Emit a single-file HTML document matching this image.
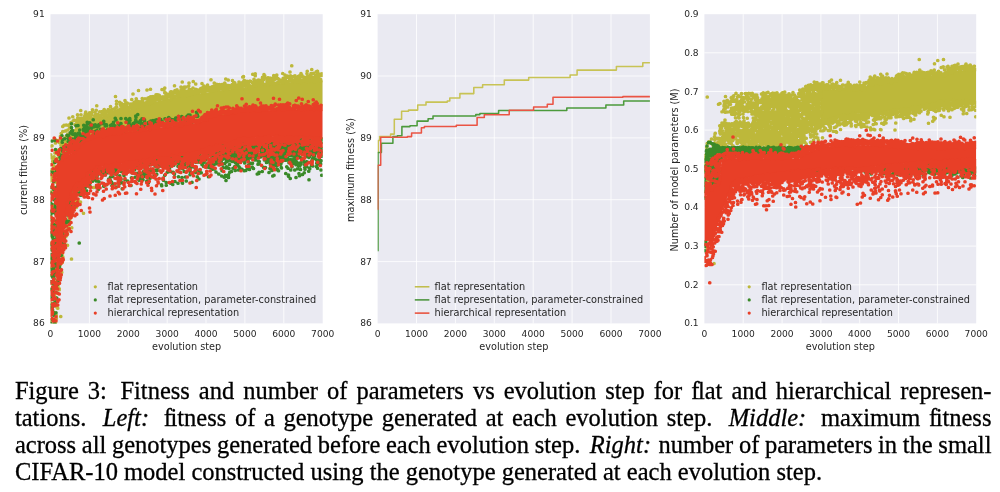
<!DOCTYPE html>
<html lang="en"><head><meta charset="utf-8"><title>Figure 3</title>
<style>
html,body{margin:0;padding:0;background:#fff}
body{width:1000px;height:492px;position:relative;overflow:hidden}
.cap{position:absolute;left:14.9px;width:976.6px;font-family:"Liberation Serif","DejaVu Serif",serif;font-size:24.5px;color:#000;margin:0;-webkit-text-stroke:0.3px #000}
.cap span.l{position:absolute;left:0;white-space:nowrap;line-height:27px;height:27px;display:block}
.cap i{font-style:italic}
.cap b{display:inline-block;font-weight:normal}
.cap .fi{letter-spacing:-1.5px}
</style></head><body>
<svg width="1000" height="360" viewBox="0 0 1000 360" style="position:absolute;left:0;top:0;filter:blur(0.6px)" font-family="'DejaVu Sans', 'Liberation Sans', sans-serif" fill="#262626"><rect x="50.5" y="14.2" width="272.2" height="309.2" fill="#EAEAF2"/><path d="M89.4 14.2V323.4M128.3 14.2V323.4M167.2 14.2V323.4M206.0 14.2V323.4M244.9 14.2V323.4M283.8 14.2V323.4M50.5 261.6H322.7M50.5 199.7H322.7M50.5 137.9H322.7M50.5 76.0H322.7" stroke="#fff" stroke-width="0.8" fill="none"/><clipPath id="c0"><rect x="50.5" y="14.2" width="272.2" height="309.2"/></clipPath><g clip-path="url(#c0)"><path d="M75.0 126.0L81.6 122.2L89.4 119.3L101.1 116.5L112.7 113.8L128.3 110.1L139.9 106.3L145.8 104.5L147.7 103.9L151.6 102.9L159.4 100.9L167.2 98.9L178.4 96.8L186.6 95.2L198.3 93.5L206.0 92.4L209.9 91.9L211.9 91.6L213.8 91.3L218.9 90.6L229.4 89.2L243.0 87.6L244.9 87.4L247.3 87.1L257.4 85.7L268.3 84.1L271.8 83.8L276.0 83.4L285.8 82.6L289.6 82.2L291.6 82.1L293.5 82.0L303.3 81.5L322.7 80.4L322.7 106.3L303.3 107.4L293.5 108.0L291.6 108.1L289.6 108.2L285.8 108.5L276.0 109.4L271.8 109.7L268.3 110.1L257.4 111.6L247.3 113.1L244.9 113.4L243.0 113.6L229.4 115.2L218.9 116.6L213.8 117.3L211.9 117.6L209.9 117.8L206.0 118.4L198.3 119.5L186.6 121.2L178.4 122.7L167.2 124.9L159.4 126.9L151.6 128.9L147.7 129.8L145.8 130.5L139.9 132.3L128.3 136.0L112.7 139.7L101.1 142.5L89.4 145.3L81.6 148.2L75.0 152.0Z" fill="#BDB83A"/><path d="M202 978h0m0 56h0m0 251h0m1-666h0m0 104h0m0 190h0m0 57h0m0 242h0m1-532h0m0 23h0m0 64h0m0 100h0m0 31h0m0 204h0m0 55h0m1-446h0m0 135h0m1-262h0m1 133h0m0 163h0m0 169h0m0 23h0m1-489h0m0 47h0m0 2h0m0 316h0m0 280h0m1-300h0m0 72h0m0 132h0m2-487h0m0 502h0m1-127h0m1-321h0m0 50h0m0 152h0m1-217h0m0 136h0m0 6h0m0 227h0m0 195h0m1-585h0m0 85h0m0 28h0m1-149h0m0 46h0m0 219h0m0 403h0m1-380h0m1-359h0m0 93h0m0 365h0m0 161h0m1-233h0m0 0h0m0 257h0m1-643h0m0 56h0m0 156h0m0 318h0m1-448h0m0 39h0m0 205h0m0 174h0m0 152h0m0 84h0m0 1h0m0 0h0m1-721h0m0 271h0m0 79h0m0 267h0m0 100h0m1-680h0m0 94h0m0 373h0m0 27h0m1-375h0m0 491h0m1-48h0m0 90h0m0 13h0m1-713h0m0 340h0m1-289h0m0 338h0m1-336h0m0 25h0m0 309h0m0 116h0m0 57h0m0 108h0m1-593h0m1-3h0m0 100h0m1-132h0m0 1h0m0 14h0m0 617h0m1-90h0m2-524h0m0 466h0m1-523h0m2 8h0m0 551h0m0 34h0m0 4h0m1-95h0m1-466h0m1-34h0m0 81h0m1 413h0m1-513h0m1 442h0m0 279h0m1-685h0m0 30h0m0 397h0m0 83h0m1-557h0m0 30h0m0 70h0m1-60h0m0 8h0m0 33h0m1 474h0m1-70h0m1-38h0m0 55h0m0 14h0m1-454h0m0 344h0m1-434h0m0 20h0m0 501h0m0 4h0m4-454h0m1-76h0m0 100h0m2-47h0m1 422h0m1-406h0m1-46h0m0 41h0m0 326h0m1-367h0m0 418h0m1-355h0m0 337h0m0 11h0m0 12h0m2-447h0m0 45h0m2 383h0m1-351h0m0 26h0m1-36h0m0 354h0m1-356h0m0 354h0m0 18h0m0 44h0m1-461h0m1 16h0m0 296h0m0 73h0m1-355h0m0 2h0m0 16h0m0 342h0m1-18h0m0 18h0m1-410h0m0 369h0m0 29h0m1-426h0m0 31h0m1 370h0m0 8h0m1-322h0m0 321h0m1-368h0m3 359h0m1-378h0m0 17h0m1-20h0m1 23h0m0 28h0m1-15h0m0 510h0m1-489h0m0 269h0m0 47h0m0 48h0m3-118h0m1-326h0m1 82h0m0 222h0m0 31h0m1-319h0m0 330h0m1-287h0m0 254h0m2-245h0m0 258h0m1-312h0m1 343h0m1-343h0m0 0h0m0 341h0m1-324h0m2 23h0m0 282h0m0 11h0m0 15h0m1-31h0m2 32h0m2-338h0m2-10h0m1-23h0m0 26h0m0 11h0m1-24h0m0 23h0m1-12h0m0 322h0m1-46h0m2 13h0m1-275h0m1-24h0m1 285h0m3-282h0m0 8h0m0 10h0m0 286h0m1 28h0m1-366h0m1 17h0m2 306h0m1-272h0m2-20h0m0 4h0m3 6h0m1 268h0m1 102h0m2-121h0m0 22h0m1-268h0m2-22h0m1 10h0m1-18h0m1 26h0m1-34h0m4 15h0m1-5h0m1 13h0m2-10h0m0 16h0m0 219h0m1 6h0m3-242h0m3-9h0m0 297h0m1-293h0m0 17h0m1 231h0m1-1h0m0 16h0m1-252h0m1 0h0m2-9h0m1-7h0m1 9h0m3-20h0m0 34h0m4 277h0m5-282h0m0 1h0m1-20h0m0 14h0m0 227h0m0 14h0m3-247h0m0 1h0m1 11h0m1-28h0m1 22h0m1-40h0m4 34h0m3 5h0m1 3h0m4-18h0m2 15h0m4 1h0m1-16h0m0 14h0m1-14h0m2 11h0m6-5h0m1-13h0m1-2h0m1 12h0m0 10h0m6-14h0m0 5h0m2 7h0m3-14h0m2 1h0m0 17h0m2-24h0m4 21h0m1-3h0m1-15h0m0 5h0m3-20h0m3 30h0m3-19h0m0 9h0m4 11h0m3-21h0m2 19h0m4-7h0m1-62h0m2 43h0m0 14h0m0 3h0m2-41h0m0 11h0m1 13h0m4 13h0m3 8h0m2-6h0m3-35h0m1 28h0m1-19h0m2 5h0m0 25h0m2-35h0m0 21h0m4 0h0m0 9h0m4-25h0m0 8h0m5 7h0m1 12h0m1-43h0m0 38h0m1-24h0m1 21h0m0 8h0m1-33h0m0 22h0m1-12h0m0 3h0m1-5h0m2 12h0m2-20h0m3 16h0m1 4h0m2 9h0m5-25h0m0 16h0m3-7h0m4-27h0m0 18h0m1 17h0m3-16h0m1-41h0m0 42h0m0 6h0m2 5h0m3-20h0m1 10h0m2 17h0m1-29h0m4-12h0m1 21h0m0 11h0m4-22h0m3 17h0m1-60h0m2 51h0m0 13h0m3-19h0m5 10h0m5-23h0m0 10h0m0 16h0m2-9h0m8 1h0m1-17h0m1 23h0m6-9h0m1-49h0m3 35h0m0 22h0m1-25h0m0 3h0m0 13h0m1-16h0m1 0h0m3 23h0m1-25h0m2 7h0m0 10h0m2-50h0m0 30h0m0 0h0m0 13h0m0 1h0m4-14h0m0 25h0m3-17h0m3-9h0m0 19h0m4-5h0m2-11h0m0 1h0m3 20h0m3-31h0m0 20h0m2-6h0m3 4h0m1-18h0m0 8h0m0 11h0m3-9h0m2-9h0m0 21h0m2-20h0m2 19h0m3-13h0m1 3h0m4 6h0m1-38h0m4 29h0m1 10h0m3-38h0m3-7h0m0 19h0m0 20h0m4-19h0m1 6h0m0 3h0m0 13h0m6-5h0m1 0h0m1-12h0m1 9h0m4-2h0m4 0h0m1-16h0m1 17h0m1-9h0m0 21h0m0 1h0m1-31h0m2 20h0m2-19h0m1 11h0m2 2h0m2 2h0m2 2h0m2-42h0m0 27h0m2-8h0m1 24h0m3-18h0m4-9h0m0 17h0m3 7h0m3-4h0m1-11h0m8 1h0m0 4h0m0 9h0m1-34h0m0 12h0m1 12h0m4-44h0m1 53h0m4-15h0m2-10h0m0 6h0m0 12h0m1-26h0m2 16h0m0 15h0m3-4h0m2-27h0m1 17h0m2 17h0m5-16h0m0 6h0m1 8h0m2-36h0m0 26h0m1-38h0m0 29h0m1-4h0m4 21h0m4-16h0m1-4h0m0 10h0m5 6h0m1-22h0m1-26h0m4 40h0m1 11h0m5-41h0m0 21h0m2 5h0m0 8h0m4-3h0m2-7h0m1 0h0m1 1h0m0 12h0m4-13h0m3 7h0m3-13h0m0 5h0m1 7h0m4-32h0m1 18h0m2 19h0m2-23h0m2 12h0m1-16h0m3 12h0m0 10h0m3-17h0m0 16h0m2-16h0m4 4h0m1 9h0m1-22h0m6 9h0m0 0h0m0 13h0m2-11h0m1 12h0m5-44h0m0 39h0m2-5h0m2-6h0m1 18h0m6-20h0m1 17h0m1-30h0m0 21h0m3-3h0m4 7h0m3-20h0m0 10h0m1-7h0m3 13h0m1-13h0m2-1h0m0 10h0m0 10h0m4-21h0m3 11h0m3 7h0m1-5h0m2-5h0m1-8h0m1 0h0m6 0h0m0 11h0m0 9h0m2-10h0m1-3h0m0 7h0m1-20h0m0 1h0m4-17h0m1 24h0m1 0h0m1 13h0m1 2h0m5-7h0m1-28h0m0 23h0m0 12h0m2-13h0m6 2h0m1 5h0m5-3h0m0 7h0m2-15h0m1-16h0m5 8h0m0 15h0m4-14h0m0 8h0m1 13h0m1-6h0m7-5h0m3-2h0m0 13h0m5-24h0m0 16h0m5-9h0m0 15h0m5-18h0m1 0h0m0 12h0m2 11h0m1-17h0m1-30h0m3-2h0m1 19h0m1 19h0m1-23h0m3 12h0m3 12h0m4-5h0m1-15h0m0 17h0m4-12h0m3 6h0m0 1h0m2 3h0m1 3h0m0 7h0m2-26h0m2 1h0m0 24h0m8-19h0m0 15h0m1-48h0m0 46h0m1-14h0m0 10h0m1-5h0m1 6h0m2-23h0m2 5h0m1 10h0m1 4h0m1-41h0m0 8h0m3 41h0m2-13h0m1 0h0m4-10h0m1 2h0m0 14h0m2-15h0m1-2h0m2 10h0m5-9h0m1 16h0m4-7h0m3-21h0m0 14h0m1 10h0m2 3h0m1-17h0m0 17h0m1-30h0m1-8h0m3 5h0m2 9h0m0 28h0m5-5h0m2-11h0m2-12h0m0 18h0m1 9h0m2-28h0m1 11h0m6-10h0m1 22h0m1-15h0m1 11h0m8-18h0m1 14h0m1-8h0m1-4h0m0 21h0m1-33h0m2 17h0m1 15h0m3-28h0m4 9h0m1-8h0m1-7h0m0 34h0m1-3h0m2 0h0m2-17h0m0 1h0m2 15h0m2-12h0m0 9h0m1-1h0m1-6h0m3 0h0m0 7h0m9-4h0m1-29h0m0 39h0m2-20h0m3 11h0m3-12h0m1-12h0m1 26h0m1-17h0m0 11h0m0 7h0m5-18h0m3-5h0m3 24h0m2-3h0m3-9h0m2-28h0m2 15h0m0 9h0m2 11h0m3-60h0m0 43h0m1 7h0m4 8h0m1 2h0m1-17h0m2 19h0m2 2h0m2-24h0m3 10h0m3 8h0m1-8h0m2-1h0m0 14h0m5-21h0m2 23h0m1-24h0m0 8h0m0 7h0m6-14h0m1-11h0m0 36h0m0 99h0m3-129h0m0 21h0m1-1h0m1-14h0m1 14h0m2 4h0m1-17h0m2 3h0m0 8h0m3-3h0m2-5h0m3 15h0m4-11h0m1-20h0m0 18h0m1-27h0m1 18h0m1 14h0m0 11h0m5-22h0m1 18h0m2-10h0m3-13h0m2-7h0m0 3h0m1 10h0m1 14h0m1-43h0m0 17h0m3 19h0m4-21h0m1 18h0m1-3h0m2 10h0m0 8h0m4-14h0m1-10h0m0 2h0m2-17h0m1 36h0m3-38h0m0 11h0m1-11h0m3 26h0m0 3h0m2-7h0m2 12h0m2-23h0m4 22h0m1-16h0m0 22h0m3-29h0m3 6h0" stroke="#BDB83A" stroke-width="14.8" stroke-linecap="round" fill="none" transform="scale(0.25)"/><path d="M202 688h0m0 535h0m1-410h0m0 119h0m0 86h0m0 59h0m0 216h0m1-521h0m0 84h0m0 84h0m0 59h0m0 128h0m0 108h0m1-485h0m0 94h0m0 175h0m0 168h0m1-371h0m0 207h0m0 104h0m1-187h0m0 41h0m0 53h0m0 17h0m0 51h0m0 25h0m0 29h0m1-592h0m0 409h0m0 70h0m0 43h0m0 191h0m1-399h0m0 338h0m1-321h0m0 46h0m0 45h0m0 52h0m0 70h0m0 58h0m0 73h0m1-550h0m0 260h0m0 130h0m0 14h0m0 105h0m0 60h0m1-475h0m0 400h0m0 42h0m0 24h0m0 29h0m1-354h0m0 32h0m1-199h0m0 80h0m0 12h0m0 32h0m0 17h0m0 59h0m0 50h0m0 66h0m1-346h0m0 186h0m0 63h0m0 132h0m0 27h0m0 80h0m0 46h0m1-540h0m0 78h0m0 221h0m0 61h0m0 20h0m0 14h0m0 140h0m0 27h0m1-431h0m0 81h0m0 236h0m1-469h0m0 150h0m0 89h0m0 126h0m1-414h0m0 129h0m0 309h0m0 124h0m0 82h0m1-649h0m0 498h0m0 10h0m0 57h0m1-648h0m0 190h0m0 23h0m0 40h0m0 10h0m0 267h0m1-494h0m0 93h0m0 124h0m0 16h0m0 221h0m1-85h0m0 14h0m0 32h0m0 195h0m1-351h0m0 59h0m0 253h0m0 82h0m1-328h0m0 108h0m0 113h0m0 50h0m1-510h0m0 160h0m0 43h0m0 7h0m1-107h0m0 9h0m0 162h0m0 15h0m0 21h0m0 198h0m1-286h0m0 43h0m0 5h0m0 108h0m0 3h0m1-318h0m0 196h0m1-297h0m0 257h0m0 234h0m2-14h0m1-52h0m1-460h0m3 413h0m1 40h0m0 6h0m2-442h0m1-8h0m0 5h0m0 19h0m1 404h0m1-454h0m0 39h0m2 5h0m0 333h0m0 10h0m0 40h0m3-478h0m1 26h0m1-10h0m0 45h0m0 17h0m2-29h0m0 11h0m0 338h0m1-13h0m0 39h0m1-346h0m0 270h0m2-304h0m0 296h0m0 44h0m0 24h0m0 23h0m2-69h0m1-350h0m1 344h0m3-315h0m1 296h0m1-20h0m2-21h0m0 50h0m1-348h0m0 71h0m1-29h0m0 6h0m3 270h0m1-317h0m0 12h0m0 12h0m1 291h0m1-312h0m0 341h0m1-336h0m1 246h0m0 1h0m1-200h0m0 6h0m0 193h0m0 22h0m0 11h0m1-18h0m1 19h0m1-299h0m2 1h0m1 36h0m1 257h0m1-330h0m0 15h0m0 15h0m0 38h0m0 246h0m2-275h0m1 22h0m1-34h0m1 15h0m1 22h0m1 17h0m0 259h0m1-298h0m1 28h0m1 2h0m1-10h0m0 210h0m0 14h0m2-182h0m1-64h0m0 291h0m1-271h0m0 15h0m0 17h0m1-38h0m2-46h0m3 40h0m0 7h0m0 22h0m0 181h0m2 5h0m0 15h0m1-25h0m2-246h0m1 31h0m4 17h0m0 422h0m1-438h0m1-14h0m0 252h0m2-225h0m0 209h0m1-213h0m0 18h0m1 220h0m1-211h0m1 161h0m0 34h0m1-35h0m1-168h0m3 192h0m2-216h0m0 3h0m2-25h0m0 25h0m0 12h0m1-52h0m0 22h0m1 12h0m1 206h0m1-237h0m0 47h0m2-27h0m1-12h0m0 238h0m1-231h0m0 4h0m0 21h0m2 202h0m1-214h0m1-26h0m0 257h0m3-274h0m0 8h0m1 13h0m0 5h0m1 37h0m0 139h0m1-157h0m1-17h0m0 224h0m1-215h0m1 177h0m1-180h0m1 1h0m2-33h0m0 250h0m0 3h0m4-242h0m0 44h0m1-48h0m0 10h0m1 15h0m1-13h0m0 191h0m1-178h0m1 166h0m2 36h0m3-246h0m0 22h0m1 7h0m0 170h0m0 21h0m4-163h0m0 152h0m1-188h0m0 219h0m1-219h0m1-1h0m0 26h0m3 191h0m1-210h0m0 0h0m0 218h0m2-7h0m0 27h0m0 4h0m1-226h0m0 177h0m0 8h0m1-7h0m2-192h0m0 168h0m2-171h0m1 252h0m1-258h0m0 5h0m1 188h0m0 35h0m3-46h0m2-185h0m1 190h0m1-169h0m1 3h0m5 155h0m1-181h0m1 49h0m0 140h0m1 7h0m3-205h0m0 260h0m3-51h0m1-197h0m0 173h0m1 13h0m1-179h0m0 196h0m1-22h0m2-155h0m0 168h0m2-192h0m0 240h0m1-237h0m4 15h0m0 7h0m3 167h0m1 25h0m3-186h0m3 191h0m1-13h0m1-207h0m1 7h0m2 220h0m2-230h0m0 244h0m1-48h0m2 12h0m2-212h0m0 3h0m1-8h0m0 16h0m1 32h0m1-22h0m0 221h0m1-45h0m1-169h0m0 157h0m1-154h0m0 6h0m1-28h0m1-30h0m3 7h0m1 196h0m0 72h0m1-234h0m0 183h0m3-9h0m4-177h0m1-15h0m0 175h0m1-142h0m1 207h0m1-238h0m0 165h0m2 40h0m1-192h0m0 209h0m2-226h0m0 238h0m2-258h0m0 20h0m0 13h0m0 170h0m0 40h0m1-31h0m4-180h0m0 225h0m0 24h0m1-76h0m0 1h0m6 22h0m4-189h0m0 206h0m1-190h0m2-55h0m0 201h0m2-163h0m3-32h0m2 187h0m1 57h0m3-231h0m3-1h0m1 179h0m1-197h0m1 7h0m0 27h0m4 234h0m2-233h0m0 202h0m1-209h0m2 0h0m1 190h0m2-198h0m0 187h0m3-185h0m4 182h0m1-189h0m0 220h0m3-245h0m0 16h0m0 191h0m0 22h0m1-224h0m0 202h0m3-183h0m3 0h0m0 212h0m1-242h0m0 235h0m1-31h0m0 4h0m3 30h0m1-182h0m0 10h0m0 119h0m0 78h0m1-231h0m1 173h0m1-172h0m2 209h0m0 14h0m1-232h0m1 8h0m2 18h0m1-10h0m2-23h0m0 19h0m0 199h0m0 16h0m2-233h0m1 229h0m1-56h0m0 60h0m0 10h0m1-29h0m1-186h0m0 202h0m1-21h0m3-206h0m0 5h0m0 21h0m1 196h0m1-28h0m2-160h0m2 179h0m3-183h0m0 196h0m0 20h0m1-25h0m3-18h0m2-192h0m0 5h0m0 217h0m1 18h0m1-31h0m1-39h0m2-172h0m2 165h0m0 60h0m1-64h0m1 37h0m1-202h0m1 16h0m2 186h0m3-38h0m3-166h0m1 20h0m1-13h0m0 3h0m3 211h0m2-52h0m1 12h0m1-182h0m0 181h0m1 20h0m2-15h0m1-179h0m1 150h0m1-159h0m0 218h0m1-56h0m0 11h0m1 30h0m1-21h0m0 8h0m1 2h0m5-15h0m5 8h0m2-186h0m3 261h0m1 4h0m1-257h0m2 2h0m2 226h0m2 7h0m5-20h0m1-226h0m5 255h0m0 11h0m3-257h0m1 205h0m2-50h0m4-169h0m1 189h0m0 8h0m2 7h0m1-46h0m1 58h0m2-197h0m1-12h0m0 256h0m4-254h0m0 145h0m0 106h0m2-84h0m0 16h0m2 27h0m0 49h0m1-106h0m1-153h0m0 210h0m2-28h0m2-19h0m1 53h0m0 12h0m2-222h0m0 241h0m1-247h0m2-7h0m1 18h0m1-18h0m0 8h0m0 11h0m4-13h0m1 173h0m2 14h0m0 68h0m2-267h0m0 241h0m3-62h0m0 8h0m2-28h0m0 63h0m2-50h0m0 26h0m1 1h0m2-186h0m0 154h0m1 4h0m2-171h0m0 152h0m1 92h0m1 21h0m1 2h0m1-105h0m0 47h0m1-17h0m3-2h0m2 30h0m1-27h0m3-175h0m1 224h0m1-228h0m0 8h0m2 162h0m0 19h0m0 55h0m3-259h0m0 1h0m5-6h0m3 202h0m4-202h0m0 220h0m0 19h0m1-29h0m0 18h0m2-34h0m4-30h0m1-134h0m0 165h0m0 74h0m4-62h0m1-192h0m1 193h0m9-19h0m0 41h0m1-225h0m0 206h0m0 10h0m2-232h0m1 199h0m2-190h0m0 249h0m2-242h0m1 173h0m1 10h0m1-8h0m2 8h0m0 68h0m1-95h0m0 63h0m3-69h0m0 17h0m0 16h0m0 31h0m0 13h0m5-1h0m3-33h0m2-9h0m0 8h0m2-18h0m2 26h0m1-197h0m1 181h0m1-26h0m2 43h0m2 0h0m1-33h0m0 7h0m5-24h0m1 42h0m1-199h0m0 196h0m0 13h0m1-191h0m0 153h0m2 24h0m2 53h0m1-89h0m2 25h0m0 19h0m0 8h0m1-52h0m3 31h0m4-24h0m1 44h0m2 8h0m1-19h0m1-58h0m0 77h0m2-43h0m1-14h0m3-30h0m0 32h0m0 37h0m0 17h0m1-38h0m7 15h0m0 35h0m1-74h0m0 32h0m1 9h0m1-24h0m3-25h0m0 36h0m2-44h0m2-12h0m1 44h0m0 5h0m0 61h0m3-41h0m1-33h0m1 36h0m1-51h0m2-10h0m2 47h0m2 60h0m1-21h0m1-68h0m0 11h0m1 11h0m1-57h0m1 76h0m0 14h0m3-50h0m2 14h0m0 75h0m2-116h0m0 61h0m2-39h0m1 86h0m1-81h0m1 52h0m0 50h0m1-83h0m0 9h0m1-37h0m0 36h0m0 20h0m1-77h0m1 79h0m0 36h0m4-112h0m1 27h0m0 24h0m1-9h0m0 64h0m0 10h0m0 1h0m1-71h0m1 35h0m2-60h0m0 44h0m1 31h0m1-94h0m0 11h0m1 5h0m3 11h0m1 8h0m1 56h0m1-41h0m1-46h0m0 47h0m2-10h0m0 2h0m1-23h0m1 58h0m1-45h0m1-10h0m1 12h0m1-37h0m2-13h0m0 26h0m0 16h0m1 17h0m0 27h0m0 11h0m2-72h0m0 43h0m0 2h0m0 32h0m2-69h0m1 13h0m1 17h0m0 10h0m1-58h0m3-5h0m1 24h0m0 41h0m0 1h0m1 4h0m2-56h0m0 15h0m0 14h0m1 47h0m2-122h0m0 109h0m1-78h0m0 52h0m1-12h0m1 42h0m1-103h0m1 28h0m0 15h0m1 14h0m1 14h0m1 6h0m1-46h0m2 19h0m1 18h0m0 6h0m0 35h0m2-89h0m0 46h0m2-34h0m1-21h0m1-25h0m0 56h0m1-43h0m0 56h0m2 60h0m1-59h0m1-5h0m0 33h0m1-13h0m1-35h0m1-25h0m1 17h0m0 86h0m1-55h0m3-38h0m1-8h0m0 21h0m0 17h0m0 9h0m1-18h0m0 65h0m1-35h0m3-25h0m0 16h0m0 13h0m1 20h0m1-5h0m0 13h0m1-39h0m2 45h0m1-124h0m0 64h0m1-10h0m1 23h0m1-70h0m1 71h0m0 21h0m4-69h0m0 25h0m0 4h0m1 5h0m0 7h0m1 43h0m1-15h0m1-61h0m3-28h0m0 110h0m3-87h0m0 33h0m1 7h0m2-34h0m0 47h0m2-63h0m0 45h0m0 14h0m1-1h0m1-53h0m0 44h0m2-57h0m2 43h0m1 84h0m2-109h0m1 32h0m0 38h0m1-12h0m1 3h0m1 46h0m1-5h0m1-66h0m0 23h0m0 10h0m1-36h0m1-25h0m1-25h0m2 58h0m2-15h0m0 14h0m1-32h0m0 11h0m2-20h0m0 11h0m1 11h0m1 78h0m3-64h0m2 47h0m3-77h0m1-16h0m0 31h0m0 33h0m3-42h0m0 37h0m1 35h0m1-100h0m0 52h0m0 19h0m3 9h0m1-46h0m1-25h0m0 36h0m0 18h0m0 10h0m1-52h0m0 38h0m1 1h0m3 15h0m1-71h0m2 19h0m0 53h0m0 44h0m3-109h0m0 29h0m0 31h0m1-51h0m0 0h0m0 31h0m0 31h0m0 22h0m1-39h0m1 25h0m1-88h0m0 10h0m0 49h0m0 19h0m0 26h0m2-2h0m1-106h0m1 93h0m1 21h0m1-96h0m2 17h0m0 19h0m0 7h0m0 6h0m0 69h0m3-130h0m0 4h0m1 26h0m1 38h0m0 12h0m0 22h0m0 25h0m1-39h0m1-76h0m1 44h0m0 29h0m3-77h0m1 6h0m0 23h0m2-24h0m0 37h0m0 26h0m0 13h0m3-59h0m0 32h0m0 13h0m0 13h0m0 17h0m1-3h0m4-61h0m1 8h0m0 60h0m2-41h0m1-16h0m1-32h0m0 12h0m1-31h0m0 61h0m2-43h0m1 65h0m1-1h0m1-28h0m1 41h0m1-34h0m0 36h0m1-50h0m0 26h0m1-50h0m1-11h0m0 41h0m2-21h0m2 5h0m2-35h0m0 11h0m0 8h0m1-29h0m0 53h0m0 9h0m3 2h0m1 10h0m1-25h0m0 19h0m0 1h0m2-30h0m0 88h0m1-119h0m0 66h0m1-49h0m1 24h0m1-58h0m0 20h0m0 89h0m1-78h0m0 10h0m1 10h0m1 25h0m2 39h0m1-34h0m1 61h0m0 5h0m2-122h0m0 68h0m1-56h0m0 26h0m1 0h0m0 2h0m2-41h0m1 132h0m1-76h0m1 42h0m1-60h0m1 27h0m2-31h0m1 51h0m1-93h0m0 31h0m0 50h0m1-31h0m1 15h0m1-41h0m0 53h0m1-37h0m3 34h0m1-11h0m1-53h0m1 96h0m1-73h0m0 46h0m1-39h0m0 10h0m2-51h0m1 57h0m0 8h0m0 21h0m0 51h0m1-107h0m2 45h0m2-67h0m0 30h0m1 41h0m0 23h0m1-60h0m2-21h0m0 29h0m1-42h0m0 81h0m1-63h0m0 10h0m1 85h0m1-130h0m0 17h0m1 49h0m0 73h0m1-129h0m0 90h0m2-77h0m1 44h0m0 20h0m0 27h0m1-118h0m0 31h0m0 63h0m1-101h0m0 104h0m1-42h0m0 17h0m2 7h0m1-37h0m2 96h0m2-93h0m1-19h0m0 10h0m0 42h0m2-31h0m1 41h0m1-51h0m0 94h0m2-32h0m0 11h0m1-84h0m0 63h0m0 28h0m1-110h0m1 59h0m2-15h0m1-35h0m0 29h0m1 42h0m0 19h0m1-45h0m1 26h0m3-64h0m1 30h0m2 14h0m1-43h0m0 46h0m0 55h0m1 34h0m1-114h0m0 67h0m1-81h0m1-32h0m0 18h0m0 98h0m1-52h0m0 1h0m0 1h0m2-7h0m1 31h0m3-47h0m0 56h0m0 3h0m2-61h0m0 10h0m0 32h0m1-58h0m1 52h0m1-20h0m0 48h0m3-35h0m1-41h0m1 22h0m1-10h0m1-21h0m0 43h0m2 12h0m3-31h0m3 7h0m0 2h0m0 28h0m0 26h0m1-13h0m3-99h0m0 56h0m0 63h0m3-83h0m0 23h0m1-1h0m0 43h0m1-45h0m1 30h0m1-3h0m3 23h0m1-10h0m1-34h0m1-23h0m0 63h0m1-96h0m0 2h0m0 118h0m1-110h0m0 73h0m1-85h0m0 50h0m1 16h0m0 1h0m0 76h0m2-145h0m0 38h0" stroke="#3A8A28" stroke-width="14.8" stroke-linecap="round" fill="none" transform="scale(0.25)"/><path d="M56.3 165.1L59.4 161.1L62.2 158.9L64.9 156.8L68.0 155.1L71.5 153.2L75.0 151.5L81.6 142.6L89.4 138.5L101.1 135.9L112.7 133.7L128.3 131.7L139.9 130.2L145.8 129.5L147.7 129.2L151.6 128.7L159.4 127.7L167.2 126.7L178.4 125.3L186.6 124.3L198.3 122.4L206.0 119.0L209.9 117.3L211.9 116.5L213.8 115.6L218.9 114.9L229.4 113.5L243.0 111.6L244.9 111.3L247.3 111.2L257.4 110.7L268.3 110.2L271.8 110.0L276.0 109.8L285.8 109.5L289.6 109.5L291.6 109.6L293.5 109.6L303.3 109.7L322.7 110.1L322.7 139.1L303.3 138.1L293.5 137.6L291.6 137.5L289.6 137.4L285.8 137.2L276.0 136.6L271.8 136.9L268.3 137.1L257.4 137.6L247.3 138.2L244.9 138.8L243.0 139.3L229.4 142.7L218.9 145.3L213.8 146.9L211.9 147.5L209.9 148.1L206.0 149.4L198.3 151.9L186.6 154.6L178.4 156.4L167.2 157.7L159.4 158.5L151.6 159.4L147.7 159.9L145.8 160.2L139.9 161.1L128.3 162.8L112.7 165.2L101.1 167.0L89.4 172.5L81.6 182.3L75.0 185.3L71.5 194.6L68.0 207.4L64.9 223.4L62.2 242.2L59.4 265.7L56.3 293.6Z" fill="#E83F27"/><path d="M202 698h0m0 50h0m0 171h0m0 208h0m1-351h0m0 25h0m0 292h0m0 40h0m0 119h0m0 9h0m1-469h0m0 41h0m0 36h0m0 105h0m0 225h0m1-540h0m0 262h0m0 7h0m0 135h0m0 103h0m0 7h0m1-515h0m0 245h0m0 151h0m0 113h0m0 79h0m1-421h0m0 18h0m0 42h0m0 21h0m0 86h0m0 63h0m0 41h0m0 80h0m1-575h0m0 315h0m0 358h0m1-384h0m0 99h0m0 246h0m0 21h0m1-289h0m0 53h0m0 25h0m0 45h0m0 127h0m0 31h0m0 3h0m1-513h0m0 52h0m0 3h0m0 355h0m0 27h0m0 7h0m0 40h0m1-547h0m0 74h0m0 338h0m1-304h0m0 57h0m0 5h0m0 29h0m0 98h0m0 11h0m0 19h0m0 5h0m0 18h0m0 171h0m0 88h0m1-291h0m0 128h0m0 37h0m0 29h0m0 90h0m1-557h0m0 3h0m0 30h0m0 28h0m0 4h0m0 96h0m0 84h0m0 67h0m0 31h0m0 53h0m0 13h0m0 54h0m1-475h0m0 132h0m0 68h0m0 24h0m0 115h0m0 39h0m1-534h0m0 151h0m0 234h0m0 92h0m1-326h0m0 67h0m0 445h0m0 7h0m1-226h0m0 23h0m0 204h0m1-528h0m0 267h0m0 77h0m0 91h0m0 6h0m1-423h0m0 274h0m0 17h0m0 4h0m0 147h0m1-387h0m0 402h0m0 24h0m1-550h0m0 113h0m0 21h0m0 26h0m0 8h0m0 211h0m0 17h0m1-365h0m0 27h0m0 14h0m0 97h0m0 112h0m0 3h0m0 216h0m0 123h0m0 16h0m1-646h0m0 218h0m0 9h0m0 52h0m0 102h0m0 82h0m0 47h0m1-537h0m0 58h0m0 50h0m0 172h0m0 71h0m0 118h0m1-386h0m0 94h0m0 193h0m1-179h0m0 134h0m1-60h0m0 71h0m0 149h0m1-531h0m0 114h0m0 400h0m1 78h0m0 17h0m0 30h0m0 3h0m0 14h0m1-573h0m0 460h0m0 28h0m0 38h0m2-555h0m0 476h0m1-489h0m0 512h0m1-9h0m0 91h0m1-154h0m0 0h0m0 131h0m1-158h0m0 19h0m0 96h0m1-535h0m1 457h0m1-3h0m0 67h0m1-567h0m0 532h0m0 26h0m1-7h0m1-49h0m1 25h0m0 20h0m1-148h0m0 10h0m0 77h0m0 41h0m1-73h0m2-375h0m0 9h0m0 280h0m0 34h0m0 93h0m1-66h0m0 20h0m1-9h0m0 7h0m0 11h0m0 24h0m1-410h0m0 412h0m1 3h0m1-431h0m1-20h0m0 411h0m1-400h0m0 22h0m0 278h0m0 13h0m1-316h0m0 359h0m0 12h0m2-349h0m0 9h0m0 246h0m0 70h0m1 18h0m1-87h0m0 54h0m0 53h0m1-384h0m0 17h0m0 311h0m0 66h0m1-412h0m0 385h0m2-349h0m1 233h0m0 56h0m1-46h0m0 70h0m0 12h0m1-341h0m0 23h0m0 219h0m1-244h0m0 338h0m1-125h0m0 21h0m0 21h0m1-252h0m0 319h0m2-307h0m1 0h0m0 1h0m1-28h0m1 277h0m1-281h0m0 242h0m0 92h0m1-87h0m0 69h0m1-52h0m1-274h0m0 4h0m0 29h0m0 236h0m0 32h0m1-319h0m0 45h0m0 12h0m1 187h0m0 60h0m1-279h0m0 12h0m0 241h0m1-57h0m0 96h0m0 20h0m0 36h0m1-94h0m0 34h0m1-300h0m0 226h0m0 22h0m0 34h0m1-248h0m0 182h0m2 26h0m1-9h0m0 42h0m0 16h0m1-291h0m0 41h0m0 253h0m1-276h0m0 0h0m0 243h0m0 22h0m1-287h0m0 34h0m1 164h0m0 15h0m0 24h0m0 12h0m1-18h0m2-219h0m0 177h0m0 40h0m0 22h0m0 27h0m1-263h0m0 188h0m0 65h0m1-259h0m0 14h0m0 199h0m0 9h0m0 3h0m1 67h0m1-253h0m1 134h0m0 4h0m1 24h0m0 14h0m0 3h0m1-192h0m0 183h0m0 37h0m1-59h0m1-182h0m0 179h0m0 101h0m1-280h0m0 7h0m0 274h0m1-296h0m0 34h0m0 165h0m0 3h0m1-30h0m0 7h0m0 38h0m0 45h0m1-266h0m0 223h0m0 30h0m2-236h0m0 222h0m3-244h0m0 9h0m1 17h0m0 10h0m0 158h0m3 10h0m1 62h0m1-82h0m3-182h0m0 21h0m0 202h0m1-47h0m0 20h0m0 92h0m2-269h0m0 167h0m0 11h0m0 15h0m4-197h0m0 151h0m0 8h0m1-194h0m0 20h0m2 202h0m1 15h0m0 13h0m1-219h0m0 164h0m1-167h0m0 180h0m0 22h0m1 24h0m2-229h0m0 164h0m0 10h0m1-17h0m2 26h0m1-202h0m1 234h0m2-65h0m0 23h0m0 55h0m1-248h0m0 235h0m1-73h0m0 21h0m0 20h0m1-48h0m0 8h0m0 1h0m0 73h0m1-218h0m0 186h0m1-207h0m0 15h0m1-2h0m0 163h0m1 77h0m1-254h0m0 181h0m0 2h0m0 55h0m1-45h0m2 103h0m1-101h0m1-185h0m0 302h0m1-141h0m1-182h0m0 164h0m0 41h0m0 19h0m0 14h0m1-77h0m0 7h0m0 19h0m0 37h0m1-195h0m1-54h0m2 201h0m2-150h0m0 152h0m0 3h0m1 10h0m0 79h0m1-256h0m0 1h0m1-13h0m2 248h0m1-82h0m0 19h0m1 64h0m1-231h0m0 146h0m0 8h0m1-17h0m0 16h0m1-152h0m3 132h0m2 102h0m2-247h0m0 10h0m0 157h0m0 41h0m1-201h0m0 128h0m0 20h0m0 14h0m1-173h0m0 223h0m0 15h0m1-53h0m1-187h0m0 156h0m1 10h0m2 46h0m1-55h0m2-147h0m0 149h0m1-156h0m0 14h0m0 196h0m1-67h0m0 20h0m1-163h0m0 144h0m1-4h0m0 4h0m0 77h0m1-222h0m1 168h0m2-205h0m0 44h0m0 178h0m3-169h0m0 156h0m0 9h0m1-191h0m0 213h0m1-60h0m1 32h0m0 96h0m2-270h0m0 148h0m1-163h0m0 160h0m0 11h0m1-163h0m0 11h0m0 13h0m0 135h0m0 83h0m1-31h0m1-64h0m1 124h0m1-258h0m1 206h0m1-218h0m2 175h0m1-38h0m1-135h0m1 230h0m2-215h0m0 123h0m0 73h0m1-70h0m0 1h0m1-135h0m0 145h0m2 8h0m1 49h0m1-218h0m0 205h0m1-192h0m1 136h0m1 9h0m0 11h0m1-151h0m1 153h0m0 2h0m1-21h0m0 3h0m0 47h0m1 65h0m2-54h0m1-210h0m1 16h0m0 160h0m1-182h0m0 22h0m0 134h0m0 2h0m0 27h0m1-40h0m1-133h0m0 144h0m1 10h0m1 75h0m1-66h0m0 56h0m1-73h0m1 9h0m1-167h0m0 6h0m0 164h0m2-19h0m3-131h0m0 122h0m2-129h0m0 140h0m0 46h0m1-191h0m0 175h0m0 38h0m0 46h0m1-30h0m1-235h0m3 13h0m0 125h0m1 12h0m0 49h0m1-203h0m1-3h0m0 182h0m2-200h0m0 35h0m0 143h0m0 40h0m2-186h0m0 11h0m0 194h0m0 41h0m1-111h0m1 25h0m0 2h0m0 60h0m1-11h0m1-77h0m1-144h0m0 207h0m0 55h0m2-240h0m0 136h0m1 48h0m1-195h0m0 195h0m0 1h0m1-188h0m0 137h0m0 43h0m1-199h0m0 155h0m1-155h0m2-7h0m1 19h0m0 151h0m0 3h0m1-20h0m1-139h0m2 151h0m0 84h0m1-248h0m0 147h0m0 40h0m1-169h0m1-8h0m0 160h0m1 61h0m1-7h0m1-69h0m0 17h0m0 7h0m1 61h0m1-58h0m0 25h0m2 59h0m1-117h0m1-167h0m0 196h0m1-172h0m0 157h0m0 6h0m0 20h0m1-171h0m0 2h0m0 121h0m1 124h0m1-260h0m0 7h0m1 139h0m1-151h0m0 156h0m0 17h0m2 9h0m1-169h0m0 210h0m1-81h0m1-145h0m2 156h0m0 26h0m1-17h0m0 73h0m1-89h0m0 30h0m1-170h0m0 173h0m1-162h0m1 217h0m2-221h0m0 142h0m2 64h0m1-78h0m0 25h0m0 17h0m0 1h0m1-34h0m0 59h0m2-196h0m0 193h0m3-200h0m0 154h0m0 9h0m0 5h0m1-175h0m0 152h0m1-11h0m0 46h0m3-181h0m0 12h0m0 138h0m1 64h0m1-69h0m1-151h0m0 164h0m1 59h0m1-34h0m2-178h0m1-9h0m0 141h0m0 7h0m0 119h0m1-128h0m1-146h0m0 142h0m0 91h0m1-76h0m0 58h0m2-63h0m1-141h0m0 139h0m0 57h0m1-202h0m0 166h0m0 3h0m1 27h0m1-51h0m1 14h0m1-14h0m1 37h0m2-164h0m2-5h0m1 238h0m1-103h0m0 21h0m0 17h0m1-46h0m0 25h0m0 65h0m0 0h0m1-73h0m1 63h0m1-221h0m1 11h0m0 191h0m1-199h0m0 136h0m1 17h0m2-144h0m1 123h0m1-165h0m0 44h0m0 149h0m1-6h0m3-11h0m0 8h0m0 25h0m2-190h0m1 26h0m1 147h0m0 0h0m1-22h0m0 31h0m0 4h0m1-170h0m0 149h0m1 26h0m1-33h0m0 54h0m0 25h0m1-220h0m0 178h0m0 22h0m1-202h0m0 201h0m1-202h0m0 158h0m1-26h0m1-132h0m0 3h0m0 192h0m0 38h0m1-88h0m2-2h0m0 25h0m2-29h0m0 44h0m0 10h0m0 24h0m2-236h0m0 14h0m0 15h0m0 119h0m3-129h0m0 128h0m1 39h0m1-15h0m1-167h0m0 5h0m1 209h0m0 46h0m1-251h0m0 260h0m1-123h0m0 53h0m1-50h0m1-130h0m0 138h0m1-146h0m0 0h0m0 172h0m1-1h0m2-166h0m0 175h0m1 26h0m1-53h0m1 38h0m1-57h0m0 12h0m1-140h0m0 122h0m1 144h0m3-277h0m0 203h0m1-198h0m0 161h0m0 51h0m1-54h0m1 81h0m1-95h0m0 5h0m1 14h0m2-154h0m0 116h0m1-130h0m0 5h0m0 164h0m1-183h0m0 242h0m1-59h0m0 64h0m1-237h0m2 12h0m0 130h0m0 4h0m1-166h0m0 10h0m0 229h0m2-69h0m1-13h0m0 22h0m0 29h0m1-179h0m3-11h0m0 164h0m1-153h0m0 185h0m1-196h0m0 148h0m1 10h0m1 15h0m2-176h0m1 192h0m0 80h0m1-130h0m0 85h0m1-222h0m0 10h0m0 167h0m0 40h0m1-77h0m0 12h0m1 9h0m1-147h0m1 154h0m1-169h0m2 144h0m0 34h0m1-26h0m0 13h0m1-14h0m0 52h0m1-64h0m0 15h0m0 18h0m1-169h0m1-19h0m0 24h0m2 152h0m1-5h0m0 14h0m2-171h0m0 2h0m1-5h0m0 17h0m0 127h0m1 3h0m0 44h0m1-29h0m0 19h0m1 10h0m2-48h0m0 8h0m1-164h0m0 19h0m0 5h0m0 230h0m2-75h0m1 28h0m1-179h0m0 148h0m1-15h0m2-144h0m1 6h0m0 144h0m2-21h0m0 15h0m0 28h0m2-23h0m1-159h0m0 178h0m0 65h0m1-84h0m1 12h0m1-162h0m0 140h0m0 9h0m1 52h0m1-192h0m1 152h0m0 1h0m1 55h0m1-218h0m0 132h0m2 12h0m1 20h0m4-155h0m2 129h0m1-137h0m0 151h0m0 40h0m1-190h0m1 146h0m1 6h0m0 41h0m1-41h0m0 1h0m1-169h0m1-12h0m0 36h0m3-24h0m1 152h0m0 6h0m0 31h0m0 8h0m1-182h0m0 13h0m0 113h0m1-134h0m0 189h0m0 49h0m3-32h0m1-55h0m2-19h0m0 39h0m1-153h0m1 169h0m1-182h0m0 128h0m0 27h0m1-150h0m0 227h0m1-62h0m1-186h0m0 145h0m1 30h0m0 23h0m1-201h0m0 17h0m1 147h0m0 36h0m1-51h0m0 22h0m1-145h0m0 139h0m2-4h0m1-140h0m1 134h0m1 16h0m0 29h0m2-192h0m0 139h0m1 72h0m2-196h0m0 151h0m1-14h0m1-133h0m0 157h0m0 54h0m1-88h0m0 63h0m1-24h0m1-189h0m0 12h0m0 131h0m0 24h0m1-156h0m1-14h0m1 176h0m1 9h0m1 24h0m1-186h0m0 139h0m1-2h0m1 52h0m0 53h0m1-257h0m0 5h0m1 140h0m2-150h0m0 21h0m0 144h0m0 6h0m2-165h0m0 138h0m1 20h0m0 59h0m1-31h0m1-2h0m1-215h0m0 208h0m0 38h0m1-218h0m0 140h0m0 8h0m1-136h0m0 137h0m1-147h0m0 11h0m0 146h0m0 16h0m1 55h0m2-237h0m1 20h0m0 156h0m1-24h0m2 11h0m0 11h0m0 26h0m0 17h0m1-73h0m0 28h0m1-155h0m1-1h0m1-19h0m0 168h0m0 47h0m1-11h0m0 3h0m0 80h0m1-140h0m0 38h0m1-167h0m0 4h0m0 136h0m0 101h0m2-232h0m1 117h0m2 15h0m0 2h0m1 70h0m1-253h0m0 175h0m0 16h0m3-143h0m1-9h0m2 198h0m1-231h0m0 32h0m0 3h0m1 126h0m0 2h0m0 39h0m2-20h0m2-155h0m0 167h0m1-41h0m0 43h0m1-174h0m0 154h0m1 1h0m1-13h0m1 24h0m1-17h0m1-138h0m0 122h0m0 22h0m1-152h0m0 150h0m2 79h0m1-239h0m1 150h0m1 28h0m1-182h0m0 209h0m1-35h0m1-165h0m0 3h0m0 133h0m1-8h0m0 15h0m0 59h0m0 29h0m1-219h0m0 129h0m0 12h0m1 42h0m1 33h0m1-238h0m0 23h0m0 205h0m1 9h0m1-68h0m0 3h0m1-179h0m0 151h0m1 24h0m1-32h0m1-135h0m0 193h0m1-183h0m0 168h0m2-27h0m0 2h0m0 25h0m1-29h0m1-155h0m0 137h0m0 50h0m1 67h0m1-248h0m0 140h0m1 86h0m1-63h0m0 17h0m1-25h0m0 39h0m1-203h0m0 20h0m0 231h0m1-35h0m1-64h0m1-161h0m1 22h0m0 173h0m1 5h0m0 1h0m1-194h0m0 5h0m0 139h0m0 20h0m1 24h0m0 33h0m1-219h0m1 198h0m1-184h0m0 146h0m0 8h0m1-28h0m0 13h0m0 1h0m0 13h0m2 18h0m1-181h0m0 149h0m0 18h0m2-16h0m1 69h0m1-232h0m0 195h0m1-44h0m0 10h0m0 24h0m1-164h0m0 120h0m1-145h0m2 9h0m0 3h0m2 9h0m1-35h0m1 179h0m0 17h0m2-29h0m0 26h0m1-162h0m0 130h0m2 76h0m1-29h0m0 14h0m3-198h0m0 1h0m0 131h0m0 62h0m1-188h0m1-7h0m0 168h0m1-157h0m0 127h0m0 55h0m1-40h0m1-167h0m0 157h0m0 4h0m0 40h0m0 42h0m2-230h0m0 159h0m0 22h0m1 30h0m1-71h0m3 26h0m2-159h0m0 136h0m1-158h0m0 13h0m0 5h0m0 123h0m0 26h0m0 89h0m4-83h0m1-21h0m0 42h0m1-45h0m2 23h0m1-174h0m0 28h0m2-11h0m1 137h0m0 46h0m1-53h0m1 16h0m1-10h0m1 5h0m0 0h0m0 20h0m0 26h0m1-204h0m0 175h0m1-161h0m0 176h0m1-166h0m0 145h0m1-143h0m1 146h0m0 29h0m1-55h0m1-142h0m1 14h0m0 138h0m0 30h0m5-39h0m0 15h0m3-137h0m1 118h0m1-122h0m1-6h0m0 140h0m0 52h0m1-33h0m0 5h0m1-174h0m0 159h0m0 3h0m1-154h0m1 129h0m0 24h0m2-20h0m2-136h0m0 125h0m1 34h0m2-150h0m0 132h0m0 14h0m1-142h0m0 218h0m1-97h0m1-134h0m0 198h0m0 4h0m1-60h0m1 9h0m1-166h0m1 6h0m0 179h0m1-46h0m2 2h0m0 11h0m0 6h0m1-151h0m0 11h0m0 126h0m1-122h0m0 155h0m1-44h0m0 90h0m1-29h0m1-48h0m0 56h0m2-54h0m1-126h0m0 142h0m1 33h0m1-186h0m0 122h0m1 0h0m0 24h0m0 24h0m0 46h0m2-207h0m0 113h0m0 1h0m0 126h0m1-250h0m0 168h0m0 40h0m2-68h0m1-178h0m0 169h0m0 12h0m1-14h0m0 0h0m0 16h0m0 32h0m0 2h0m1-174h0m0 173h0m1 28h0m3-195h0m0 107h0m1 74h0m1-30h0m0 43h0m1-202h0m0 201h0m1-213h0m2 130h0m0 7h0m0 12h0m0 14h0m0 28h0m2-171h0m1-10h0m0 129h0m2-146h0m0 194h0m1-44h0m0 98h0m2-234h0m1 124h0m0 20h0m1-15h0m2-119h0m0 206h0m1-216h0m0 156h0m2-19h0m0 25h0m1 72h0m1-238h0m0 174h0m1-24h0m0 7h0m0 38h0m2-194h0m0 130h0m1-122h0m0 156h0m1-149h0m0 128h0m1-142h0m0 149h0m0 20h0m2-21h0m1-11h0m1-12h0m0 10h0m0 0h0m1-138h0m0 174h0m3-169h0m0 142h0m0 66h0m1-219h0m0 11h0m0 7h0m0 186h0m2-192h0m0 169h0m1-48h0m0 23h0m1-22h0m2-116h0m0 127h0m1-134h0m0 132h0m0 3h0m0 37h0m0 8h0m1-35h0m1-153h0m2 1h0m0 139h0m0 47h0m2-55h0m1 40h0m1-151h0m1-9h0m1 114h0m0 14h0m2 6h0m1-171h0m0 34h0m0 170h0m0 4h0m1-28h0m0 27h0m1-161h0m0 150h0m0 38h0m1-79h0m1 4h0m0 9h0m2-133h0m0 153h0m0 33h0m2-174h0m2-33h0m0 166h0m1-151h0m1 7h0m1 129h0m0 8h0m1-133h0m0 223h0m1-110h0m0 2h0m1-129h0m1 129h0m0 66h0m1-18h0m2-25h0m1-12h0m1-136h0m0 12h0m0 135h0m0 0h0m1-151h0m0 148h0m1-12h0m1 25h0m0 32h0m0 17h0m0 2h0m2-207h0m0 119h0m0 126h0m1-39h0m1-85h0m1 17h0m0 17h0m1-144h0m1-17h0m2 10h0m0 149h0m0 8h0m1-37h0m0 3h0m0 56h0m1-184h0m1 139h0m2 34h0m0 4h0m1-174h0m0 6h0m1 123h0m0 10h0m1-140h0m0 114h0m0 11h0m0 70h0m1-1h0m3-58h0m1-8h0m0 46h0m2-168h0m0 180h0m1-34h0m1 7h0m0 20h0m0 55h0m1-113h0m1-129h0m0 1h0m0 179h0m0 38h0m0 8h0m1-86h0m1-131h0m0 164h0m0 22h0m1-178h0m3-10h0m1 123h0m0 61h0m0 36h0m2-256h0m0 30h0m0 173h0m0 75h0m1-111h0m1-124h0m1 129h0m0 12h0m1-23h0m0 125h0m1-258h0m0 179h0m1-53h0m0 27h0m0 46h0m1-204h0m0 152h0m1-130h0m2 125h0m1 34h0m1-161h0m1-1h0m0 109h0m0 47h0m1-36h0m0 65h0m1-46h0m0 60h0m0 8h0m1-207h0m2 131h0m0 7h0m0 1h0m0 25h0m1-179h0m0 137h0m1 91h0m0 11h0m1-112h0m0 35h0m2 8h0m1-193h0m0 27h0m0 9h0m0 154h0m1-23h0m3-11h0m1-134h0m0 13h0m0 184h0m1-11h0m1-44h0m0 17h0m0 64h0m0 3h0m1-98h0m1-122h0m1 129h0m0 14h0m0 40h0m1-167h0m1 106h0m0 56h0m1-38h0m0 77h0m1-223h0m0 145h0m0 38h0m2-167h0m2-8h0m1-3h0m0 127h0m1-112h0m0 141h0m2-21h0m0 7h0m0 15h0m3-163h0m1 208h0m2-200h0m0 9h0m0 115h0m0 13h0m2-143h0m0 149h0m2-6h0m1-151h0m0 13h0m0 138h0m0 53h0m1-179h0m0 135h0m1-146h0m1 122h0m0 0h0m1 26h0m0 30h0m1 13h0m1-66h0m0 8h0m0 14h0m0 20h0m1-164h0m1-14h0m0 190h0m0 44h0m1-215h0m1 180h0m1-45h0m0 22h0m1 65h0m1-98h0m0 5h0m1 6h0m1-22h0m0 47h0m1 2h0m0 68h0m2-227h0m0 149h0m2-33h0m0 19h0m0 11h0m1-8h0m1-144h0m1-8h0m0 170h0m2-28h0m0 15h0m0 36h0m1-194h0m0 130h0m0 8h0m2-124h0m1-15h0m1 170h0m1 6h0m1-37h0m1-133h0m1-25h0m0 146h0m2-124h0m0 8h0m1 136h0m1 2h0m0 18h0m1 45h0m1-80h0m2-129h0m0 158h0m1-145h0m0 127h0m1-172h0m0 171h0m1-10h0m1-3h0m0 65h0m2-179h0m0 167h0m2-56h0m1-119h0m0 184h0m2-6h0m1-39h0m1-152h0m0 23h0m0 131h0m0 70h0m2-215h0m1-27h0m0 183h0m1-33h0m0 16h0m0 56h0m1-45h0m1 60h0m2-200h0m1 133h0m1-13h0m0 1h0m1 61h0m1-192h0m0 154h0m0 36h0m1-41h0m0 35h0m0 13h0m0 11h0m2-202h0m0 8h0m2 114h0m0 7h0m0 100h0m2-240h0m1 16h0m0 158h0m1-167h0m1-5h0m0 235h0m1-96h0m0 9h0m1 36h0m1-38h0m0 11h0m1-3h0m1-169h0m0 27h0m0 163h0m1-43h0m1-120h0m0 118h0m1 12h0m0 57h0m0 30h0m1-226h0m2 126h0m0 21h0m2 42h0m1-178h0m0 160h0m1-8h0m1-159h0m2 136h0m1-13h0m1 106h0m1-223h0m0 135h0m0 75h0m0 7h0m2-76h0m0 1h0m1-20h0m0 33h0m1-190h0m0 19h0m1 148h0m0 53h0m1-188h0m0 146h0m1-139h0m2-9h0m0 172h0m1-187h0m2 8h0m0 13h0m0 118h0m0 20h0m1 22h0m1-179h0m0 144h0m0 5h0m0 32h0m2-189h0m1 175h0m0 7h0m1-163h0m0 170h0m1-161h0m0 138h0m0 11h0m1-171h0m0 14h0m1 171h0m1-47h0m0 97h0m1-77h0m1-8h0m0 61h0m1-199h0m0 129h0m0 23h0m1 37h0m1-55h0m0 10h0m1-135h0m1 165h0m0 30h0m1-71h0m1 42h0m1-34h0m0 95h0m1-80h0m0 40h0m1-182h0m0 144h0m1-163h0m0 7h0m2 148h0m4-152h0m0 11h0m0 149h0m0 21h0m0 10h0" stroke="#E83F27" stroke-width="14.8" stroke-linecap="round" fill="none" transform="scale(0.25)"/></g><circle cx="95.3" cy="286.8" r="1.6" fill="#BDB83A"/><text font-size="9.75" x="107.5" y="289.8">flat representation</text><circle cx="95.3" cy="299.9" r="1.6" fill="#3A8A28"/><text font-size="9.75" x="107.5" y="302.9">flat representation, parameter-constrained</text><circle cx="95.3" cy="313.1" r="1.6" fill="#E83F27"/><text font-size="9.75" x="107.5" y="316.1">hierarchical representation</text><g font-size="9.1" text-anchor="middle"><text x="50.5" y="336.6">0</text><text x="89.4" y="336.6">1000</text><text x="128.3" y="336.6">2000</text><text x="167.2" y="336.6">3000</text><text x="206.0" y="336.6">4000</text><text x="244.9" y="336.6">5000</text><text x="283.8" y="336.6">6000</text><text x="322.7" y="336.6">7000</text></g><g font-size="9.1" text-anchor="end"><text x="44.7" y="326.4">86</text><text x="44.7" y="264.6">87</text><text x="44.7" y="202.7">88</text><text x="44.7" y="140.9">89</text><text x="44.7" y="79.0">90</text><text x="44.7" y="17.2">91</text></g><text font-size="9.7" text-anchor="middle" x="186.6" y="349.6">evolution step</text><text font-size="9.7" text-anchor="middle" transform="translate(27.3 170.0) rotate(-90)">current fitness (%)</text><rect x="377.6" y="14.2" width="272.3" height="309.2" fill="#EAEAF2"/><path d="M416.5 14.2V323.4M455.4 14.2V323.4M494.3 14.2V323.4M533.2 14.2V323.4M572.1 14.2V323.4M611.0 14.2V323.4M377.6 261.6H649.9M377.6 199.7H649.9M377.6 137.9H649.9M377.6 76.0H649.9" stroke="#fff" stroke-width="0.8" fill="none"/><clipPath id="c1"><rect x="377.6" y="14.2" width="272.3" height="309.2"/></clipPath><g clip-path="url(#c1)"><path d="M377.6 152.4L378.2 152.4L378.2 140.5L379.6 140.5L379.6 136.6L390.6 136.6L390.6 134.1L394.3 134.1L394.3 119.3L401.6 119.3L401.6 111.3L408.5 111.3L408.5 110.1L417.7 110.1L417.7 104.9L426 104.9L426 102.1L447.3 102.1L447.3 101L449.8 101L449.8 98L459.9 98L459.9 93.6L473.8 93.6L473.8 87.4L482.6 87.4L482.6 84.7L504.3 84.7L504.3 80.1L528.7 80.1L528.7 77.4L570.1 77.4L570.1 75L577.1 75L577.1 70.1L616.4 70.1L616.4 66.5L642.8 66.5L642.8 62.8L650.2 62.8" stroke="#C8C355" stroke-width="1.55" fill="none" stroke-linejoin="round"/><path d="M377.6 250.7L378 250.7L378 152.4L381.4 152.4L381.4 143.3L392.9 143.3L392.9 136.6L397.4 136.6L397.4 135.8L401.9 135.8L401.9 126.6L410 126.6L410 125.7L417.1 125.7L417.1 121.1L428.1 121.1L428.1 118.7L433 118.7L433 115.9L475.8 115.9L475.8 114.6L479.9 114.6L479.9 113.5L498.6 113.5L498.6 110.5L566.8 110.5L566.8 108L605.9 108L605.9 105L623.7 105L623.7 101L650.2 101" stroke="#4C9A3C" stroke-width="1.55" fill="none" stroke-linejoin="round"/><path d="M377.6 209.5L377.8 209.5L377.8 165.3L380.7 165.3L380.7 137.3L407.4 137.3L407.4 136.6L411.6 136.6L411.6 132.9L421.4 132.9L421.4 127.8L424.4 127.8L424.4 126.4L456.3 126.4L456.3 125.2L477.1 125.2L477.1 117.5L484.3 117.5L484.3 114.8L509.2 114.8L509.2 110.2L533.6 110.2L533.6 107L547.3 107L547.3 104.2L553 104.2L553 97.2L622.9 97.2L622.9 96.6L650.2 96.6" stroke="#EA5444" stroke-width="1.55" fill="none" stroke-linejoin="round"/></g><path d="M414.8 286.8h14.6" stroke="#BDB83A" stroke-width="1.4" fill="none"/><text font-size="9.75" x="434.6" y="289.8">flat representation</text><path d="M414.8 299.9h14.6" stroke="#3A8A28" stroke-width="1.4" fill="none"/><text font-size="9.75" x="434.6" y="302.9">flat representation, parameter-constrained</text><path d="M414.8 313.1h14.6" stroke="#E83F27" stroke-width="1.4" fill="none"/><text font-size="9.75" x="434.6" y="316.1">hierarchical representation</text><g font-size="9.1" text-anchor="middle"><text x="377.6" y="336.6">0</text><text x="416.5" y="336.6">1000</text><text x="455.4" y="336.6">2000</text><text x="494.3" y="336.6">3000</text><text x="533.2" y="336.6">4000</text><text x="572.1" y="336.6">5000</text><text x="611.0" y="336.6">6000</text><text x="649.9" y="336.6">7000</text></g><g font-size="9.1" text-anchor="end"><text x="371.8" y="326.4">86</text><text x="371.8" y="264.6">87</text><text x="371.8" y="202.7">88</text><text x="371.8" y="140.9">89</text><text x="371.8" y="79.0">90</text><text x="371.8" y="17.2">91</text></g><text font-size="9.7" text-anchor="middle" x="513.8" y="349.6">evolution step</text><text font-size="9.7" text-anchor="middle" transform="translate(354.4 170.0) rotate(-90)">maximum fitness (%)</text><rect x="704.4" y="14.2" width="271.8" height="309.2" fill="#EAEAF2"/><path d="M743.2 14.2V323.4M782.1 14.2V323.4M820.9 14.2V323.4M859.7 14.2V323.4M898.5 14.2V323.4M937.4 14.2V323.4M704.4 284.8H976.2M704.4 246.1H976.2M704.4 207.4H976.2M704.4 168.8H976.2M704.4 130.1H976.2M704.4 91.5H976.2M704.4 52.8H976.2" stroke="#fff" stroke-width="0.8" fill="none"/><clipPath id="c2"><rect x="704.4" y="14.2" width="271.8" height="309.2"/></clipPath><g clip-path="url(#c2)"><path d="M820.9 88.6L832.1 89.2L840.3 89.6L851.9 89.8L859.7 89.9L863.6 90.0L865.5 87.2L867.5 84.5L872.5 83.8L883.0 82.2L896.6 81.5L898.5 77.6L900.9 77.5L911.0 77.4L921.8 77.2L925.3 77.1L929.6 77.1L939.3 76.9L943.2 76.8L945.1 76.8L947.1 73.7L956.8 70.5L976.2 70.2L976.2 100.4L956.8 101.4L947.1 101.9L945.1 102.0L943.2 102.1L939.3 102.3L929.6 104.6L925.3 105.6L921.8 106.4L911.0 108.9L900.9 110.1L898.5 110.4L896.6 110.7L883.0 112.4L872.5 112.9L867.5 113.2L865.5 113.3L863.6 113.4L859.7 113.6L851.9 114.4L840.3 116.7L832.1 118.3L820.9 123.2Z" fill="#BDB83A"/><path d="M2818 659h0m2-37h0m1 10h0m1 51h0m3-26h0m1-4h0m1-64h0m0 400h0m1-267h0m1-334h0m0 186h0m3 86h0m1 65h0m1-99h0m1-59h0m2 4h0m1 186h0m1-121h0m0 31h0m1 62h0m1 328h0m1-439h0m3 65h0m1-127h0m1 67h0m5-42h0m0 157h0m4-124h0m0 440h0m1-481h0m1-26h0m1 11h0m1-22h0m0 36h0m1-39h0m1 19h0m3 23h0m1-1h0m2-21h0m0 2h0m4 14h0m0 4h0m1 39h0m1-195h0m2 136h0m3-50h0m0 21h0m1-110h0m0 112h0m0 6h0m0 32h0m1-44h0m1-7h0m0 23h0m0 20h0m0 22h0m1-12h0m2-65h0m0 30h0m0 5h0m1-16h0m0 66h0m0 42h0m1-118h0m1-63h0m0 45h0m0 1h0m1 29h0m0 28h0m0 9h0m0 15h0m1-39h0m1 42h0m1-76h0m2 31h0m0 28h0m1-121h0m0 95h0m0 12h0m0 22h0m1-163h0m0 19h0m0 118h0m0 6h0m1-130h0m0 73h0m1-59h0m0 1h0m0 57h0m0 4h0m0 89h0m1-171h0m0 80h0m0 72h0m1-139h0m0 55h0m0 61h0m1-107h0m0 15h0m0 127h0m1-190h0m0 173h0m1-56h0m0 9h0m0 39h0m1-138h0m0 94h0m0 8h0m0 7h0m1-96h0m0 22h0m0 45h0m1 38h0m0 54h0m1-182h0m1 45h0m0 97h0m1-144h0m1 131h0m0 24h0m1-128h0m1-21h0m1 3h0m0 104h0m1-10h0m0 34h0m0 14h0m0 11h0m1-43h0m0 52h0m0 20h0m1-97h0m0 5h0m1-83h0m1 86h0m0 47h0m0 22h0m1-125h0m1-30h0m0 94h0m0 61h0m1-154h0m0 114h0m0 15h0m0 15h0m1-145h0m1-11h0m0 37h0m0 81h0m1-8h0m0 10h0m0 1h0m0 15h0m0 19h0m0 7h0m1-177h0m0 153h0m0 7h0m0 24h0m1-175h0m0 33h0m1-44h0m0 68h0m0 38h0m0 3h0m1 35h0m1-38h0m0 4h0m1-67h0m0 9h0m0 4h0m0 72h0m0 46h0m1-61h0m0 15h0m0 30h0m0 15h0m0 23h0m1-180h0m0 113h0m0 65h0m1-194h0m0 68h0m0 94h0m1-19h0m1-149h0m0 17h0m0 47h0m0 75h0m1-91h0m0 66h0m1 32h0m0 25h0m1-106h0m0 69h0m0 19h0m1-78h0m0 52h0m0 25h0m1-45h0m0 52h0m0 13h0m1-47h0m1-102h0m0 25h0m0 40h0m0 60h0m0 21h0m1-44h0m1-135h0m0 66h0m1 46h0m0 0h0m1-83h0m0 20h0m0 33h0m0 89h0m1-147h0m0 24h0m0 111h0m1-120h0m0 90h0m0 15h0m0 51h0m0 2h0m1-149h0m0 139h0m0 14h0m1-187h0m0 111h0m1 23h0m0 14h0m1-107h0m0 13h0m0 102h0m2-160h0m0 85h0m0 24h0m0 18h0m0 19h0m1-22h0m0 11h0m1-132h0m0 37h0m0 49h0m1-30h0m0 7h0m0 71h0m0 19h0m0 28h0m1-109h0m0 45h0m1-97h0m0 9h0m0 6h0m0 27h0m1-13h0m0 52h0m0 35h0m0 24h0m1-137h0m0 9h0m0 140h0m1-6h0m0 13h0m1-75h0m0 2h0m0 94h0m1-200h0m0 184h0m1-41h0m0 4h0m1-159h0m0 25h0m0 147h0m1-113h0m1 150h0m1-161h0m0 18h0m0 51h0m0 15h0m0 20h0m1-23h0m0 41h0m0 34h0m1-167h0m0 110h0m0 42h0m1-173h0m0 66h0m0 116h0m1-171h0m0 106h0m0 49h0m1-112h0m0 26h0m0 64h0m0 17h0m2-156h0m0 88h0m0 19h0m1-61h0m0 71h0m1-105h0m0 24h0m0 105h0m1-106h0m0 15h0m0 60h0m0 8h0m1 8h0m0 5h0m0 53h0m1-205h0m0 54h0m0 65h0m0 49h0m0 23h0m2-14h0m0 10h0m0 8h0m1-181h0m0 4h0m0 103h0m0 88h0m1-209h0m0 142h0m0 47h0m1-178h0m0 53h0m1 91h0m1-150h0m0 65h0m0 56h0m0 16h0m1-99h0m0 12h0m0 44h0m0 60h0m1-93h0m0 65h0m0 12h0m1-131h0m0 14h0m0 0h0m0 35h0m0 3h0m0 83h0m0 23h0m0 17h0m1-167h0m0 41h0m0 11h0m0 47h0m0 4h0m0 10h0m1-15h0m0 67h0m0 2h0m1-150h0m0 14h0m0 81h0m1-133h0m0 177h0m1 14h0m0 10h0m0 5h0m1-185h0m0 36h0m0 97h0m1 10h0m1-11h0m0 44h0m1-150h0m0 1h0m1-11h0m1-36h0m0 169h0m0 45h0m1-37h0m0 26h0m1-196h0m0 118h0m0 19h0m0 11h0m1-131h0m0 38h0m0 10h0m0 119h0m1-133h0m1 74h0m0 48h0m1-98h0m0 60h0m1-143h0m0 52h0m0 21h0m0 2h0m0 88h0m0 19h0m0 29h0m1-173h0m0 14h0m0 3h0m0 119h0m0 24h0m1-78h0m0 15h0m1-130h0m0 34h0m0 79h0m0 29h0m0 55h0m1-185h0m0 82h0m0 17h0m0 37h0m0 5h0m1-141h0m0 39h0m0 56h0m0 81h0m1-110h0m0 23h0m0 16h0m1-20h0m0 27h0m0 5h0m1 39h0m0 19h0m1-143h0m0 29h0m0 88h0m1-59h0m0 9h0m0 53h0m0 13h0m1-163h0m0 123h0m0 52h0m1-168h0m0 13h0m0 27h0m1-59h0m0 140h0m0 61h0m1-197h0m0 44h0m0 44h0m0 3h0m0 27h0m0 38h0m1-141h0m0 49h0m0 9h0m0 4h0m0 3h0m0 29h0m0 1h0m0 74h0m0 7h0m0 1h0m1-170h0m0 72h0m2-98h0m0 113h0m0 32h0m0 15h0m0 40h0m0 17h0m1-40h0m1-144h0m0 5h0m0 2h0m0 8h0m0 35h0m1-73h0m0 119h0m1 2h0m0 22h0m0 16h0m0 4h0m1-61h0m0 38h0m1-93h0m0 16h0m0 32h0m0 43h0m0 7h0m0 32h0m1-157h0m0 88h0m1-55h0m0 101h0m1-143h0m0 51h0m0 108h0m1-125h0m0 31h0m0 81h0m1-71h0m0 32h0m0 7h0m1-59h0m0 15h0m0 19h0m1 90h0m2-39h0m0 31h0m0 16h0m1-89h0m0 14h0m0 18h0m0 34h0m1-164h0m0 9h0m0 113h0m0 2h0m0 21h0m0 10h0m0 36h0m1-187h0m0 23h0m0 14h0m0 40h0m0 33h0m0 22h0m1-161h0m1 61h0m0 11h0m0 23h0m1-76h0m0 62h0m0 5h0m0 79h0m1 37h0m1-203h0m0 118h0m0 9h0m0 60h0m2-177h0m0 49h0m0 29h0m0 89h0m1-181h0m0 51h0m0 103h0m0 46h0m1-187h0m0 100h0m0 23h0m0 25h0m0 17h0m1-149h0m0 5h0m0 11h0m0 34h0m0 29h0m0 71h0m0 7h0m1 9h0m1-151h0m0 20h0m0 14h0m0 24h0m0 47h0m0 16h0m1-48h0m1-59h0m1-51h0m0 15h0m0 0h0m0 1h0m0 76h0m0 25h0m0 12h0m0 5h0m0 55h0m0 20h0m1-185h0m0 11h0m0 48h0m0 82h0m1-90h0m0 45h0m0 20h0m0 2h0m0 12h0m0 42h0m0 15h0m1-148h0m0 17h0m0 15h0m0 73h0m0 42h0m1-169h0m0 24h0m0 39h0m0 32h0m0 59h0m1-201h0m0 11h0m0 16h0m0 145h0m0 10h0m1-122h0m0 141h0m1-111h0m0 24h0m1 74h0m0 26h0m1-199h0m0 2h0m0 20h0m0 17h0m0 27h0m0 41h0m0 8h0m0 52h0m0 8h0m0 9h0m1-126h0m0 91h0m0 33h0m1-164h0m0 122h0m0 14h0m1-172h0m0 213h0m1-189h0m0 75h0m0 6h0m0 39h0m0 1h0m0 21h0m1-141h0m0 90h0m0 31h0m1-98h0m0 29h0m0 36h0m0 0h0m0 29h0m1-92h0m0 14h0m0 29h0m0 95h0m1-123h0m0 110h0m1-40h0m0 32h0m1-153h0m0 69h0m1-46h0m0 3h0m0 57h0m0 36h0m0 84h0m1-20h0m1-141h0m0 51h0m0 33h0m0 68h0m1-200h0m0 24h0m0 50h0m0 40h0m0 34h0m1 27h0m0 7h0m0 1h0m1-134h0m0 34h0m0 32h0m0 15h0m1-122h0m0 11h0m0 127h0m1-149h0m0 41h0m0 129h0m1-169h0m0 144h0m0 17h0m1-139h0m0 46h0m0 5h0m0 29h0m0 35h0m0 22h0m1-123h0m0 32h0m0 27h0m0 16h0m0 7h0m0 53h0m0 28h0m0 1h0m0 13h0m1-216h0m0 74h0m0 76h0m0 37h0m0 12h0m1-114h0m0 3h0m0 71h0m0 55h0m1-202h0m0 35h0m0 10h0m0 11h0m0 36h0m0 77h0m2-141h0m0 25h0m0 123h0m1-56h0m1-116h0m1 108h0m0 12h0m0 66h0m0 2h0m1-203h0m0 1h0m0 10h0m0 8h0m0 9h0m0 84h0m0 36h0m0 13h0m0 8h0m1-165h0m0 26h0m0 14h0m0 151h0m0 17h0m1-158h0m0 23h0m0 80h0m0 21h0m0 36h0m1-201h0m0 79h0m0 2h0m0 6h0m0 82h0m1-99h0m0 10h0m1 1h0m0 14h0m0 14h0m0 22h0m0 43h0m1-39h0m0 6h0m0 62h0m1-198h0m0 20h0m1 36h0m1-76h0m0 16h0m0 15h0m0 20h0m0 119h0m0 1h0m0 25h0m1-67h0m0 10h0m1-120h0m0 68h0m0 33h0m0 23h0m0 26h0m0 36h0m1-146h0m0 6h0m0 41h0m0 83h0m1-180h0m0 65h0m0 7h0m0 43h0m1-80h0m0 134h0m0 30h0m1-180h0m0 30h0m0 35h0m0 79h0m0 42h0m1-163h0m0 60h0m0 1h0m0 47h0m0 1h0m1-61h0m0 33h0m1-122h0m0 12h0m0 14h0m0 29h0m0 125h0m2-83h0m0 34h0m0 35h0m0 7h0m0 24h0m1-123h0m0 39h0m0 73h0m1-188h0m0 139h0m0 7h0m0 10h0m1-88h0m1-65h0m1 31h0m0 11h0m0 7h0m0 34h0m1-78h0m0 32h0m0 30h0m0 2h0m0 48h0m0 26h0m0 57h0m1-182h0m0 18h0m0 24h0m0 32h0m0 11h0m0 18h0m0 33h0m0 26h0m1-171h0m0 39h0m0 138h0m1-196h0m1 1h0m0 30h0m0 172h0m1-184h0m0 40h0m0 32h0m0 21h0m0 7h0m0 18h0m0 7h0m0 36h0m1-181h0m0 37h0m0 60h0m1-74h0m0 43h0m1-66h0m0 84h0m0 76h0m1-114h0m0 84h0m0 14h0m0 42h0m0 9h0m1-123h0m0 21h0m1-66h0m0 133h0m0 12h0m1-167h0m0 4h0m0 96h0m0 24h0m0 23h0m0 62h0m1-214h0m0 55h0m0 148h0m1-206h0m0 119h0m0 93h0m1-188h0m0 32h0m0 49h0m0 11h0m1-76h0m0 48h0m0 33h0m0 15h0m0 40h0m0 16h0m0 11h0m1-139h0m0 2h0m0 14h0m0 59h0m0 17h0m1 23h0m1-129h0m0 55h0m0 41h0m0 44h0m1-175h0m0 74h0m1-76h0m0 15h0m0 46h0m0 71h0m0 54h0m1-123h0m0 52h0m0 19h0m0 17h0m0 12h0m1-142h0m0 18h0m0 41h0m1 21h0m1-94h0m0 147h0m1-79h0m0 25h0m0 9h0m1-77h0m0 151h0m1-104h0m0 9h0m0 28h0m0 27h0m1-78h0m0 105h0m1-155h0m0 5h0m0 11h0m0 13h0m0 94h0m0 53h0m1-197h0m0 9h0m0 91h0m0 52h0m0 5h0m1-117h0m0 81h0m0 2h0m0 46h0m0 13h0m0 29h0m1-129h0m0 52h0m1-118h0m0 8h0m0 29h0m0 122h0m1-141h0m0 41h0m0 56h0m0 9h0m1-33h0m0 52h0m0 36h0m0 15h0m1-192h0m0 186h0m1-155h0m0 71h0m0 47h0m0 32h0m1-164h0m0 31h0m0 21h0m1-81h0m0 49h0m0 58h0m0 77h0m1-112h0m0 37h0m0 32h0m1-108h0m0 21h0m0 56h0m0 17h0m0 46h0m1-145h0m0 63h0m0 36h0m1 52h0m1-160h0m0 62h0m0 9h0m0 73h0m0 23h0m1-153h0m0 7h0m0 77h0m0 24h0m0 58h0m1-210h0m0 109h0m0 32h0m0 7h0m0 17h0m1-92h0m0 4h0m0 138h0m1-190h0m0 34h0m0 24h0m0 22h0m0 49h0m0 58h0m1-90h0m0 88h0m1-188h0m0 101h0m0 59h0m0 22h0m1-155h0m0 63h0m0 38h0m0 7h0m1-147h0m0 0h0m0 56h0m0 14h0m0 54h0m0 23h0m1-121h0m0 154h0m1-173h0m0 63h0m0 16h0m0 101h0m1-179h0m0 127h0m0 23h0m0 8h0m1-85h0m0 26h0m1-75h0m0 17h0m0 48h0m1-24h0m0 8h0m0 45h0m1-107h0m0 155h0m1-166h0m0 4h0m0 13h0m0 29h0m0 65h0m0 35h0m0 4h0m0 9h0m0 25h0m1-130h0m0 25h0m1 35h0m0 25h0m1-115h0m0 9h0m0 60h0m0 79h0m0 22h0m1-15h0m1-165h0m0 75h0m0 15h0m0 27h0m1-68h0m0 68h0m1-116h0m0 51h0m1 13h0m0 95h0m1-186h0m0 126h0m0 38h0m1-167h0m0 31h0m0 2h0m0 22h0m0 28h0m0 6h0m0 16h0m0 6h0m0 34h0m0 27h0m1-160h0m0 36h0m0 72h0m0 37h0m0 37h0m0 6h0m0 7h0m1-167h0m0 29h0m1-82h0m0 22h0m0 59h0m0 58h0m1-114h0m0 28h0m0 54h0m0 16h0m0 16h0m0 13h0m1-145h0m0 170h0m1-161h0m0 54h0m0 115h0m0 25h0m1-43h0m0 25h0m1-171h0m0 104h0m0 35h0m0 35h0m1-194h0m0 25h0m0 28h0m1 47h0m0 109h0m0 4h0m1-151h0m0 39h0m0 25h0m1-94h0m0 7h0m0 13h0m0 11h0m0 4h0m0 6h0m0 62h0m0 10h0m0 9h0m1-141h0m0 53h0m0 109h0m1-135h0m0 51h0m0 62h0m0 47h0m1-202h0m0 114h0m0 7h0m0 34h0m1-158h0m0 29h0m0 58h0m0 34h0m1-2h0m0 75h0m1-181h0m0 37h0m0 33h0m0 46h0m0 46h0m0 3h0m1-31h0m0 23h0m0 14h0m1-164h0m0 22h0m0 28h0m0 30h0m0 41h0m0 43h0m0 5h0m1-162h0m0 139h0m0 35h0m1-199h0m0 66h0m0 83h0m0 60h0m1-176h0m0 21h0m0 25h0m1-81h0m0 1h0m0 90h0m0 32h0m0 14h0m0 77h0m1-59h0m0 9h0m1-122h0m0 51h0m0 54h0m1-157h0m0 17h0m0 160h0m1-178h0m0 2h0m0 44h0m0 16h0m1-23h0m0 2h0m0 72h0m0 11h0m0 14h0m0 41h0m0 29h0m0 23h0m1-228h0m0 71h0m0 15h0m0 25h0m0 25h0m0 8h0m0 37h0m1-62h0m0 12h0m0 46h0m1-100h0m0 78h0m1-56h0m0 9h0m1-87h0m0 5h0m0 23h0m0 49h0m0 66h0m1-156h0m0 51h0m1 56h0m1-87h0m0 124h0m0 12h0m0 15h0m1-186h0m0 24h0m0 11h0m0 0h0m0 40h0m0 19h0m0 77h0m0 14h0m1-136h0m0 18h0m0 16h0m0 66h0m0 37h0m1-173h0m0 53h0m0 68h0m0 39h0m1-127h0m0 13h0m0 19h0m0 54h0m1-127h0m0 18h0m0 2h0m0 20h0m1-1h0m0 38h0m0 11h0m0 2h0m0 16h0m0 10h0m1-15h0m1 52h0m0 16h0m1-32h0m0 56h0m0 30h0m1-230h0m0 19h0m0 1h0m0 16h0m0 20h0m0 10h0m0 59h0m0 59h0m0 25h0m1-112h0m1 55h0m1-139h0m0 101h0m0 20h0m1-20h0m0 51h0m0 1h0m1-161h0m0 15h0m0 19h0m0 14h0m1-11h0m0 74h0m0 71h0m1-117h0m0 18h0m0 26h0m0 30h0m0 45h0m1-142h0m0 34h0m0 11h0m0 86h0m1-85h0m0 65h0m1-155h0m0 122h0m0 32h0m0 1h0m0 45h0m1-175h0m0 24h0m0 0h0m0 7h0m0 42h0m0 8h0m0 43h0m0 70h0m1-192h0m0 4h0m0 98h0m0 15h0m1-30h0m0 65h0m1-193h0m0 24h0m0 86h0m0 34h0m0 76h0m1-149h0m0 10h0m1-72h0m0 13h0m0 7h0m0 157h0m1-178h0m1 84h0m0 59h0m1-89h0m0 15h0m0 58h0m0 40h0m0 30h0m1-158h0m0 4h0m0 1h0m0 53h0m0 22h0m0 68h0m1-134h0m0 31h0m0 57h0m0 22h0m1-89h0m0 9h0m0 16h0m0 11h0m0 40h0m0 5h0m0 26h0m0 33h0m1-201h0m0 69h0m1-69h0m0 9h0m0 178h0m1-206h0m0 46h0m0 24h0m1-8h0m0 104h0m1-159h0m0 18h0m0 29h0m0 78h0m0 7h0m0 42h0m0 2h0m1-170h0m0 19h0m0 69h0m0 67h0m0 5h0m0 49h0m1-210h0m0 21h0m0 14h0m0 81h0m0 26h0m1-135h0m1 16h0m0 36h0m0 25h0m0 15h0m0 9h0m0 26h0m0 86h0m1-172h0m0 20h0m0 14h0m1 49h0m0 32h0m1-131h0m0 62h0m1-100h0m0 80h0m0 29h0m1-34h0m0 69h0m0 12h0m1-133h0m0 57h0m0 74h0m1-135h0m0 45h0m0 29h0m0 36h0m0 29h0m0 16h0m1-164h0m0 112h0m0 47h0m1-129h0m0 81h0m0 66h0m1-175h0m0 17h0m0 15h0m0 10h0m1-3h0m0 106h0m1-152h0m0 159h0m1-52h0m2-117h0m1 220h0m1-28h0m1-192h0m0 16h0m0 8h0m1 143h0m2-11h0m1-147h0m0 154h0m0 14h0m0 13h0m2-35h0m4 28h0m1-165h0m0 131h0m3-141h0m0 15h0m1 139h0m3-7h0m0 8h0m1-154h0m1-1h0m1 183h0m1-172h0m1 139h0m0 9h0m1-16h0m0 16h0m2-172h0m0 29h0m0 150h0m0 17h0m3-177h0m0 0h0m1 161h0m0 10h0m2-40h0m1 14h0m1-170h0m0 29h0m1 132h0m0 9h0m1-153h0m1-1h0m0 157h0m2-18h0m2-138h0m0 9h0m0 10h0m0 169h0m1-37h0m1-133h0m1-7h0m1 124h0m0 10h0m0 6h0m1-149h0m0 171h0m1-24h0m1-145h0m2 167h0m1-164h0m0 134h0m1-1h0m0 49h0m2 3h0m1-199h0m0 141h0m0 33h0m2-150h0m0 131h0m1-142h0m0 3h0m0 120h0m1 18h0m0 9h0m4 6h0m1-16h0m0 6h0m1-25h0m1-118h0m0 14h0m0 139h0m1-4h0m1-144h0m1 122h0m1-152h0m0 197h0m2-39h0m1-125h0m0 125h0m1-133h0m0 119h0m0 14h0m1-132h0m3-7h0m0 123h0m1 33h0m1-4h0m1-152h0m0 135h0m2-119h0m1 103h0m2 42h0m1-32h0m0 17h0m3-8h0m0 17h0m1-153h0m1 8h0m1 7h0m0 142h0m1-159h0m0 125h0m1 24h0m2-137h0m0 142h0m1-21h0m1-118h0m2-26h0m4 17h0m0 14h0m0 102h0m0 27h0m1-149h0m1 136h0m1-8h0m0 9h0m1-138h0m1 152h0m1-139h0m1 109h0m1-117h0m0 11h0m0 124h0m0 16h0m0 9h0m3-31h0m0 2h0m3-23h0m0 11h0m1-111h0m5-11h0m0 18h0m1 117h0m1-10h0m1 2h0m1-125h0m0 7h0m0 107h0m1 27h0m0 18h0m2 4h0m1-23h0m2-143h0m0 18h0m0 104h0m0 24h0m1-137h0m0 125h0m2-132h0m2 130h0m1-13h0m0 38h0m1-35h0m2 14h0m1-133h0m0 7h0m0 7h0m0 118h0m0 23h0m1-38h0m1-132h0m1 149h0m1-136h0m0 3h0m0 8h0m2 1h0m0 135h0m2-32h0m0 9h0m0 4h0m0 29h0m0 10h0m2-12h0m3-137h0m1-7h0m1-10h0m0 0h0m0 120h0m0 9h0m1 6h0m1-22h0m1 43h0m1-166h0m0 10h0m1 163h0m1-146h0m1 121h0m1-132h0m0 120h0m1-132h0m1 132h0m0 0h0m2-10h0m0 19h0m1-147h0m2 161h0m1 17h0m5-50h0m0 13h0m0 0h0m1-8h0m0 25h0m1-155h0m1-11h0m0 18h0m4-23h0m0 139h0m1-148h0m1 26h0m0 122h0m0 55h0m1 8h0m2-193h0m3 123h0m0 11h0m1-119h0m0 121h0m1-147h0m1 13h0m0 12h0m1-20h0m1 178h0m1-18h0m1-149h0m0 186h0m1-207h0m1 144h0m1 21h0m0 7h0m1-178h0m0 215h0m1-199h0m0 137h0m1-137h0m0 142h0m0 9h0m1-24h0m0 47h0m1-163h0m1 130h0m1 16h0m0 18h0m2-170h0m0 143h0m2-151h0m0 1h0m2-7h0m0 18h0m1 125h0m0 9h0m2 12h0m2-143h0m0 123h0m0 20h0m3-153h0m0 13h0m1-20h0m0 155h0m2-147h0m0 132h0m0 63h0m1-221h0m0 178h0m1 44h0m1-209h0m0 7h0m0 139h0m0 14h0m2 23h0m1-159h0m1 123h0m1-153h0m1 7h0m0 146h0m1-133h0m0 128h0m3 45h0m2-48h0m0 19h0m1-154h0m1 15h0m0 159h0m0 5h0m1-17h0m1-2h0m1-154h0m0 134h0m2-143h0m0 181h0m1-14h0m1-28h0m1 10h0m1-164h0m0 22h0m1 11h0m2 132h0m2-149h0m0 159h0m1-159h0m1 139h0m0 15h0m1-143h0m2 131h0m2-136h0m3 126h0m1 16h0m0 11h0m1-11h0m1-143h0m0 13h0m2-16h0m1 14h0m0 122h0m1 8h0m1-133h0m1-8h0m2 123h0m3 8h0m0 7h0m3-131h0m0 196h0m2-204h0m0 127h0m0 6h0m1-137h0m0 180h0m1-26h0m0 2h0m1-158h0m1-6h0m0 5h0m0 13h0m1 137h0m1-19h0m1-139h0m1 10h0m0 138h0m0 18h0m4-162h0m1-8h0m3 169h0m1-166h0m2 138h0m0 22h0m1-12h0m1 3h0m1-146h0m0 140h0m4-151h0m1 3h0m0 168h0m1-169h0m1-5h0m1 15h0m0 136h0m0 21h0m1-7h0m0 15h0m1-21h0m0 24h0m1-168h0m2 130h0m1-144h0m4 152h0m0 8h0m0 5h0m1-151h0m2-12h0m1 148h0m0 28h0m1-160h0m1 153h0m2-167h0m1 154h0m1-138h0m1-14h0m0 138h0m2-135h0m0 152h0m0 7h0m1-11h0m1 6h0m0 14h0m1-174h0m1 145h0m0 12h0m2-144h0m1 165h0m1 10h0m4-182h0m0 130h0m1 9h0m4-134h0m0 121h0m0 26h0m1-15h0m0 6h0m0 4h0m2-150h0m1-6h0m0 5h0m0 180h0m1-188h0m0 20h0m0 141h0m3 10h0m2-22h0m0 2h0m1 20h0m1-31h0m0 8h0m1-145h0m0 9h0m2-12h0m0 22h0m1 137h0m1-158h0m0 138h0m1 10h0m1-141h0m1 150h0m2-137h0m3-72h0m0 200h0m1-7h0m0 20h0m1-171h0m0 12h0m0 8h0m1-12h0m0 143h0m0 3h0m0 1h0m2-9h0m2-117h0m0 136h0m1-150h0m3-7h0m0 15h0m1 6h0m2 118h0m1-137h0m1 136h0m4-127h0m0 138h0m1-146h0m4 16h0m2-6h0m0 8h0m0 114h0m1-131h0m0 134h0m0 2h0m0 5h0m1-142h0m0 124h0m4-125h0m1 142h0m0 24h0m1-10h0m1-17h0m0 21h0m1-161h0m0 204h0m1-182h0m1-15h0m0 10h0m1-8h0m0 5h0m0 117h0m1-121h0m0 0h0m0 129h0m0 10h0m2-136h0m1 121h0m2-131h0m1-9h0m0 153h0m0 1h0m3-141h0m1 137h0m1-123h0m0 104h0m0 12h0m2 12h0m0 47h0m1-196h0m2 180h0m1-167h0m1 114h0m0 25h0m0 38h0m1-199h0m0 8h0m1-33h0m0 180h0m1-10h0m1-131h0m1 179h0m1-178h0m0 10h0m1 141h0m2-14h0m1-12h0m1-7h0m3-120h0m0 10h0m0 109h0m1-170h0m0 47h0m0 121h0m0 25h0m2-145h0m0 134h0m1-139h0m1 157h0m2-142h0m1 103h0m0 29h0m0 9h0m1-136h0m1 129h0m1-20h0m2 9h0m1-132h0m0 127h0m1-148h0m0 134h0m0 57h0m2-38h0m1-126h0m0 8h0m2 106h0m3-144h0m0 147h0m1-176h0m0 198h0m1 4h0m1 27h0m1-40h0m1-148h0m0 25h0m0 117h0m1-128h0m3 1h0m0 118h0m2-6h0m1 24h0m1-141h0m0 129h0m1-123h0m0 132h0m1-159h0m1 166h0m1 1h0m1-19h0m1-151h0m0 14h0m2 6h0m0 146h0m0 12h0m1-34h0m3-118h0m1-17h0m0 155h0m1-4h0m0 9h0m0 35h0m1-57h0m0 21h0m2-13h0m1-138h0m3 11h0m0 119h0m0 1h0m1-148h0m0 0h0m0 174h0m2-168h0m2 11h0m0 120h0m2-138h0m0 10h0m1-5h0m0 15h0m0 139h0m0 3h0m1-25h0m0 33h0m1-18h0m1-1h0m1 10h0m0 7h0m1-171h0m0 151h0m0 0h0m3-148h0m0 15h0m0 131h0m2-135h0m2 142h0m2-148h0m1 5h0m0 130h0m1 25h0m1-173h0m2 151h0m0 6h0m2-143h0m0 154h0m2-154h0m0 13h0m2-13h0m2 10h0m0 141h0m1-12h0m0 11h0m1-153h0m2 139h0m0 30h0m2-16h0m1-154h0m1 9h0m1 139h0m1 17h0m1-2h0m0 13h0m0 13h0m2-179h0m0 159h0m0 9h0m1-39h0m1-140h0m0 14h0m1 135h0m0 1h0m3-1h0m1-141h0m0 153h0m1-11h0m1-159h0m0 8h0m0 136h0m3-126h0m0 1h0m0 179h0m1-181h0m0 4h0m1 126h0m0 14h0m2-5h0m1-3h0m0 12h0m1-140h0m0 134h0m2-148h0m1-4h0m0 2h0m0 163h0m0 12h0m2-161h0m2 133h0m1-152h0m1 14h0m0 7h0m0 123h0m3-131h0m1-4h0m0 170h0m1-33h0m0 10h0m1 22h0m2-11h0m2 0h0m1-160h0m0 167h0m1-153h0m1 132h0m1-148h0m0 140h0m1-131h0m1-9h0m3 147h0m1-4h0m0 33h0m1 26h0m1-42h0m1-147h0" stroke="#BDB83A" stroke-width="14.8" stroke-linecap="round" fill="none" transform="scale(0.25)"/><path d="M2818 688h0m1 71h0m0 33h0m0 194h0m1-320h0m0 61h0m0 276h0m1-334h0m0 97h0m1-127h0m0 7h0m0 37h0m0 30h0m0 21h0m0 5h0m0 229h0m0 13h0m1-234h0m0 220h0m0 1h0m1-305h0m0 14h0m1-72h0m1 12h0m0 11h0m1-28h0m1-16h0m0 23h0m2 1h0m0 60h0m1-25h0m0 43h0m1-60h0m0 9h0m0 66h0m1-85h0m0 99h0m1-145h0m0 54h0m0 32h0m1-56h0m1 55h0m0 104h0m2-109h0m0 43h0m1-123h0m0 27h0m0 41h0m0 50h0m1-78h0m0 10h0m0 54h0m0 11h0m1-116h0m2 28h0m0 47h0m0 87h0m1-63h0m1-60h0m1 56h0m1-90h0m0 32h0m0 129h0m1-139h0m0 32h0m0 5h0m1-21h0m0 118h0m1-41h0m0 30h0m0 24h0m2-118h0m0 49h0m1 36h0m2-134h0m0 5h0m0 9h0m0 34h0m0 9h0m0 33h0m1-62h0m0 105h0m0 15h0m1-111h0m0 27h0m1-62h0m0 36h0m0 119h0m2-134h0m1 5h0m0 68h0m1-82h0m0 25h0m0 73h0m0 28h0m0 21h0m4-101h0m1-55h0m1 25h0m1-8h0m0 97h0m0 20h0m0 10h0m2-142h0m0 6h0m0 16h0m0 89h0m2-110h0m0 21h0m0 43h0m2-9h0m1 44h0m1-86h0m0 30h0m0 56h0m1-93h0m0 38h0m0 82h0m0 7h0m2-124h0m0 16h0m0 2h0m0 9h0m2-28h0m0 27h0m1 16h0m1-42h0m1 18h0m1-10h0m1 6h0m1 22h0m2-39h0m3 25h0m2-24h0m0 8h0m1-7h0m1 17h0m2-18h0m2 33h0m1-21h0m2-11h0m7-1h0m2-2h0m3 3h0m0 10h0m1 6h0m2-16h0m5 9h0m1-10h0m0 1h0m3 1h0m0 11h0m5-13h0m0 12h0m4-2h0m3-11h0m1 35h0m1-15h0m3-19h0m3 4h0m1 7h0m3-12h0m0 16h0m3-15h0m2 0h0m0 2h0m2 12h0m3-12h0m0 34h0m1-12h0m2-15h0m2-10h0m4 15h0m2-17h0m1 6h0m4 2h0m0 13h0m3 10h0m2-29h0m1 12h0m2-10h0m0 44h0m3-42h0m1-1h0m0 14h0m1-14h0m0 18h0m3-19h0m0 0h0m1-2h0m0 13h0m4-10h0m0 17h0m2-14h0m0 11h0m1 14h0m2-30h0m0 0h0m3 17h0m1-17h0m0 9h0m2-8h0m2-1h0m9 9h0m2-8h0m2-3h0m1 19h0m3-10h0m0 8h0m6-3h0m1 11h0m1-21h0m1-4h0m2 2h0m2 5h0m0 0h0m2 1h0m0 13h0m2-13h0m3 1h0m0 0h0m3-3h0m2-3h0m2 11h0m5-9h0m0 0h0m0 16h0m1 5h0m5-22h0m0 1h0m0 9h0m2 8h0m4-24h0m0 8h0m4-5h0m0 11h0m11-10h0m1 19h0m2-20h0m3 11h0m1-12h0m3 3h0m4 4h0m0 12h0m3-16h0m0 16h0m2-11h0m2 8h0m4-14h0m1 22h0m4-24h0m0 12h0m2-14h0m1 20h0m5-16h0m0 15h0m3-10h0m7 6h0m1-11h0m2 24h0m2-22h0m2 0h0m2 12h0m3-3h0m1-10h0m1 0h0m1 0h0m1-2h0m2 19h0m3 6h0m2-25h0m0 7h0m1 5h0m5-11h0m0 20h0m3-18h0m0 11h0m1 80h0m1-91h0m1 0h0m5 1h0m0 7h0m5-10h0m3 17h0m1-9h0m4-8h0m0 0h0m1-2h0m1 1h0m1 7h0m1-7h0m0 13h0m1 19h0m2-30h0m2 0h0m3-2h0m2 21h0m1-11h0m4-11h0m6 1h0m7-3h0m14 2h0m6 0h0m23 91h0m0 12h0m5-11h0m2 0h0m78 9h0m28-14h0m27 12h0m8-16h0m34 11h0m15 5h0m11-11h0m9 13h0m4 6h0m10-12h0m27 7h0m5-10h0m9 14h0m3-21h0m1 5h0m1 1h0m21 21h0m1-2h0m5-18h0m5 12h0m1 5h0m7-38h0m1 26h0m6 4h0m3 9h0m5 0h0m2-9h0m4-2h0m1-16h0m6 18h0m9-15h0m10-17h0m8 18h0m3 21h0m15-2h0m5-22h0m1 11h0m8-11h0m3 7h0m9-6h0m2 16h0m4-14h0m3 11h0m1-1h0m3 15h0m2-17h0m3-2h0m5-21h0m1 14h0m1 5h0m4-1h0m3 0h0m1-9h0m2-15h0m0 35h0m2-11h0m5 13h0m4-8h0m1-12h0m10 5h0m1 20h0m4-21h0m2 16h0m1-9h0m0 0h0m0 2h0m1-3h0m1-2h0m10 2h0m0 9h0m10 8h0m2-18h0m9 18h0m4-24h0m3 16h0m4-1h0m3-20h0m1 4h0m6-1h0m1 6h0m3 12h0m0 7h0m4 5h0m9-7h0m1-7h0m3 7h0m7-5h0m1 0h0m2-13h0m5 5h0m0 3h0m3 1h0m3 1h0m3 15h0m2-22h0m5 29h0m3-41h0m0 32h0m2-7h0m4-16h0m0 11h0m7-9h0m4 0h0m0 4h0m2 1h0m5-12h0m4 39h0m1-18h0m2-6h0m8 0h0m3-10h0m3 15h0m1 8h0m1-15h0m2-14h0" stroke="#3A8A28" stroke-width="14.8" stroke-linecap="round" fill="none" transform="scale(0.25)"/><path d="M704.4 199.3L706.3 195.5L708.3 191.6L710.2 190.2L713.3 187.8L716.0 185.8L718.8 185.1L721.9 159.9L725.4 159.0L728.9 158.4L735.5 158.4L743.2 158.4L754.9 158.4L766.5 158.4L782.1 158.4L793.7 158.4L799.5 158.4L801.5 156.4L805.4 152.6L813.1 150.1L820.9 147.5L832.1 146.2L840.3 145.2L851.9 145.2L859.7 145.2L863.6 145.2L865.5 145.2L867.5 145.2L872.5 145.2L883.0 145.7L896.6 147.3L898.5 147.5L900.9 147.6L911.0 147.6L921.8 147.7L925.3 147.7L929.6 147.7L939.3 147.7L943.2 147.8L945.1 147.8L947.1 147.8L956.8 147.8L976.2 147.9L976.2 159.9L956.8 160.6L947.1 161.0L945.1 161.1L943.2 161.2L939.3 161.3L929.6 161.7L925.3 161.8L921.8 162.2L911.0 163.1L900.9 164.0L898.5 164.2L896.6 164.4L883.0 166.0L872.5 167.2L867.5 167.8L865.5 168.0L863.6 168.2L859.7 168.6L851.9 169.0L840.3 169.4L832.1 169.8L820.9 170.4L813.1 170.9L805.4 171.4L801.5 171.7L799.5 171.8L793.7 172.2L782.1 173.1L766.5 174.8L754.9 176.1L743.2 179.4L735.5 180.6L728.9 193.5L725.4 202.6L721.9 212.4L718.8 221.0L716.0 230.3L713.3 243.2L710.2 251.1L708.3 240.7L706.3 241.1L704.4 241.5Z" fill="#E83F27"/><path d="M2818 1031h0m2-327h0m0 70h0m0 10h0m0 261h0m1-270h0m0 203h0m1-310h0m0 374h0m1-344h0m1-18h0m0 24h0m0 40h0m0 20h0m0 279h0m0 19h0m1-387h0m0 19h0m0 38h0m0 39h0m1-29h0m0 271h0m0 48h0m1-312h0m0 7h0m0 201h0m0 86h0m1-392h0m0 305h0m0 65h0m0 2h0m0 24h0m1-308h0m1-84h0m0 59h0m0 19h0m0 13h0m0 17h0m0 241h0m0 45h0m1-376h0m0 9h0m0 13h0m0 79h0m0 213h0m0 14h0m1 40h0m0 1h0m1-332h0m1 0h0m0 265h0m0 65h0m0 13h0m1-373h0m0 9h0m0 45h0m0 273h0m1-248h0m0 234h0m1-319h0m0 34h0m2 350h0m0 73h0m1-457h0m0 45h0m0 20h0m0 12h0m1-16h0m0 9h0m0 17h0m0 289h0m1-399h0m0 388h0m0 15h0m1-354h0m1-53h0m0 362h0m1-350h0m0 50h0m1 13h0m1-83h0m0 106h0m0 265h0m1-365h0m0 350h0m0 63h0m1-312h0m0 13h0m1-66h0m0 283h0m0 54h0m1-280h0m0 262h0m1-379h0m0 52h0m0 338h0m1-368h0m0 27h0m0 2h0m0 11h0m0 6h0m0 286h0m1-240h0m0 211h0m0 45h0m0 2h0m0 11h0m2-371h0m0 36h0m0 2h0m0 258h0m1-218h0m0 205h0m1-188h0m0 179h0m1 53h0m1-267h0m1 2h0m0 298h0m1-377h0m0 25h0m0 10h0m0 270h0m1-307h0m0 100h0m0 15h0m1-63h0m0 17h0m0 31h0m0 235h0m0 2h0m1-335h0m0 16h0m0 22h0m0 16h0m1 232h0m0 4h0m0 35h0m1 2h0m1-316h0m0 15h0m0 11h0m0 39h0m0 246h0m0 15h0m1-343h0m0 33h0m0 17h0m0 55h0m1-107h0m0 119h0m0 208h0m2-73h0m0 43h0m0 44h0m1-285h0m0 222h0m0 28h0m1-298h0m0 28h0m0 41h0m0 250h0m2-254h0m0 7h0m0 33h0m0 150h0m0 44h0m0 19h0m1-327h0m0 9h0m0 98h0m0 145h0m1-183h0m0 4h0m0 205h0m1-278h0m0 47h0m0 12h0m0 210h0m0 25h0m1-263h0m0 67h0m0 2h0m1-59h0m0 12h0m0 39h0m0 204h0m0 1h0m0 6h0m1-277h0m0 216h0m0 45h0m2-43h0m1-8h0m2-214h0m0 288h0m1-40h0m1-56h0m0 68h0m1-278h0m0 226h0m0 53h0m1-279h0m1-5h0m1 266h0m1-7h0m0 9h0m0 9h0m1-255h0m0 233h0m1-245h0m1-13h0m0 22h0m0 247h0m1-41h0m1-29h0m2 7h0m1-208h0m0 213h0m0 11h0m1-222h0m0 187h0m1-166h0m0 215h0m1-10h0m1-33h0m1-192h0m1-6h0m0 18h0m0 187h0m1-217h0m0 24h0m0 198h0m1-196h0m0 218h0m2-16h0m0 51h0m1-98h0m0 81h0m2-248h0m0 7h0m0 176h0m1-15h0m1-5h0m0 13h0m0 66h0m1-224h0m1-15h0m0 191h0m1-29h0m2-13h0m0 18h0m1-169h0m0 229h0m2-96h0m0 8h0m0 40h0m0 37h0m1-207h0m0 121h0m0 11h0m0 20h0m1-18h0m0 54h0m1-18h0m1-160h0m0 139h0m2-160h0m0 129h0m0 25h0m0 15h0m1-234h0m0 184h0m0 90h0m1-208h0m0 10h0m1-28h0m0 167h0m0 47h0m1-33h0m1-162h0m0 18h0m1-18h0m0 150h0m1-153h0m0 128h0m0 51h0m2-34h0m1-6h0m1-27h0m0 43h0m1-155h0m0 119h0m2-103h0m0 104h0m0 9h0m1-125h0m1 136h0m1 5h0m0 1h0m1-38h0m1 84h0m1 13h0m2-100h0m1-94h0m0 7h0m0 101h0m0 6h0m0 2h0m1-126h0m0 132h0m1-108h0m0 121h0m1-120h0m1-12h0m0 92h0m0 30h0m1-16h0m1 15h0m0 18h0m1-143h0m0 16h0m0 89h0m0 3h0m0 20h0m0 16h0m1 13h0m2-155h0m0 99h0m0 86h0m1-54h0m0 8h0m1-140h0m0 176h0m2-177h0m0 140h0m0 36h0m1-164h0m0 82h0m0 17h0m1-123h0m1 6h0m0 124h0m1-122h0m1 132h0m2-22h0m1 25h0m0 11h0m0 16h0m1-150h0m0 93h0m0 55h0m1-155h0m0 101h0m1 11h0m3 1h0m0 20h0m1-42h0m1 11h0m1-99h0m1-11h0m1 22h0m2-1h0m0 135h0m1-7h0m1-48h0m0 71h0m1-167h0m0 113h0m1-8h0m0 15h0m2-119h0m0 175h0m1-175h0m0 10h0m0 85h0m0 27h0m0 2h0m0 38h0m1-55h0m0 19h0m0 23h0m2-10h0m2-126h0m0 76h0m2-87h0m0 128h0m0 6h0m1-37h0m2 50h0m1-39h0m0 45h0m1-159h0m1 107h0m0 23h0m1-117h0m0 82h0m0 22h0m0 67h0m1-179h0m0 113h0m1-133h0m1 11h0m0 121h0m0 54h0m1-79h0m1-98h0m0 107h0m0 22h0m0 53h0m3-161h0m0 113h0m0 2h0m2-133h0m0 8h0m0 103h0m2 6h0m0 86h0m1-203h0m1 89h0m1 9h0m0 7h0m0 47h0m1-141h0m1 120h0m0 1h0m0 27h0m0 42h0m1-17h0m1-166h0m0 83h0m0 11h0m0 9h0m1 27h0m4-141h0m0 98h0m1-13h0m0 30h0m1-108h0m1-6h0m2 11h0m0 72h0m1 8h0m0 17h0m1-128h0m0 118h0m0 45h0m1-141h0m0 84h0m0 57h0m2-150h0m1-5h0m1 26h0m0 109h0m2-30h0m1-97h0m0 165h0m1-173h0m0 153h0m1-137h0m0 115h0m0 0h0m0 32h0m1-71h0m0 25h0m1-100h0m0 82h0m0 6h0m0 24h0m2 84h0m1-71h0m1-142h0m0 11h0m0 95h0m0 1h0m0 22h0m1 15h0m2-49h0m0 38h0m1-112h0m1 71h0m0 18h0m0 14h0m1 5h0m1 84h0m1-199h0m0 7h0m0 102h0m0 2h0m1-112h0m0 216h0m1-124h0m0 8h0m1-101h0m0 1h0m0 130h0m1-47h0m0 97h0m1-106h0m0 53h0m1-19h0m1-108h0m2 97h0m0 49h0m1-158h0m0 20h0m0 116h0m0 75h0m1-202h0m0 137h0m0 41h0m1-73h0m1-11h0m1-88h0m0 73h0m0 6h0m0 32h0m1 16h0m1-2h0m1-33h0m1-119h0m0 6h0m0 147h0m1-45h0m1-94h0m0 21h0m0 132h0m1-149h0m1 152h0m1-50h0m0 19h0m1-123h0m0 9h0m0 73h0m0 15h0m1-4h0m0 19h0m1 57h0m2-153h0m0 71h0m0 103h0m1-85h0m0 6h0m0 6h0m2-108h0m0 125h0m1-54h0m0 37h0m1-107h0m0 151h0m2-159h0m1-7h0m0 95h0m0 8h0m0 26h0m1-5h0m1-118h0m0 79h0m2-61h0m0 88h0m1 29h0m1-129h0m0 149h0m1-60h0m0 10h0m1 11h0m1-104h0m0 73h0m0 41h0m1 6h0m1-125h0m0 0h0m0 68h0m1 15h0m3 29h0m1-6h0m1-110h0m0 80h0m0 19h0m0 20h0m0 1h0m1-124h0m0 11h0m0 7h0m0 80h0m0 31h0m0 8h0m1-6h0m0 16h0m1-58h0m2-86h0m1-39h0m0 113h0m1-80h0m0 138h0m1-54h0m2 10h0m0 9h0m0 15h0m1-104h0m0 9h0m1 86h0m1-107h0m0 77h0m0 33h0m1-111h0m0 2h0m1-22h0m0 106h0m2 56h0m0 6h0m0 19h0m1-184h0m0 30h0m1 73h0m0 12h0m0 9h0m1-102h0m2 142h0m1-69h0m1-66h0m1 8h0m1-16h0m2 86h0m0 10h0m0 2h0m1-21h0m1-77h0m1 10h0m0 159h0m1-98h0m1 9h0m0 56h0m1-26h0m0 25h0m1-121h0m0 77h0m0 13h0m2-10h0m1-90h0m0 107h0m0 3h0m2 12h0m0 26h0m0 15h0m1-163h0m0 92h0m0 41h0m1-60h0m0 6h0m0 5h0m0 10h0m1-96h0m0 136h0m1 13h0m1-138h0m0 91h0m1-28h0m0 58h0m0 66h0m1-195h0m0 77h0m0 43h0m1-18h0m1-111h0m0 83h0m0 67h0m1-80h0m0 37h0m2-101h0m0 64h0m0 111h0m2-88h0m1-79h0m0 84h0m2-98h0m0 85h0m0 23h0m3-34h0m0 2h0m0 23h0m0 31h0m1-123h0m0 145h0m1-42h0m0 9h0m1-22h0m0 17h0m0 29h0m1-57h0m0 111h0m1-184h0m0 7h0m0 195h0m1-145h0m1-71h0m1 124h0m1 5h0m0 26h0m1-149h0m0 88h0m1-12h0m0 24h0m0 7h0m2-93h0m1-11h0m0 61h0m0 21h0m1-86h0m1 88h0m0 13h0m1-111h0m0 18h0m1 68h0m1 21h0m1-88h0m0 117h0m1-15h0m0 58h0m1-85h0m0 22h0m1-27h0m1-11h0m0 45h0m1-29h0m0 51h0m1-136h0m0 7h0m0 167h0m1-205h0m0 29h0m0 7h0m0 2h0m0 91h0m1-4h0m1-104h0m1 0h0m0 6h0m0 85h0m1 12h0m0 26h0m0 20h0m1-63h0m1-91h0m0 151h0m1-159h0m0 91h0m0 21h0m2 21h0m2-107h0m0 177h0m1-205h0m0 16h0m0 92h0m0 10h0m1 42h0m1-38h0m0 74h0m1-180h0m0 107h0m1-117h0m0 93h0m0 33h0m4-138h0m0 98h0m0 17h0m1 44h0m1-37h0m0 108h0m1-113h0m1-20h0m0 64h0m1-156h0m0 11h0m0 9h0m2 83h0m1 48h0m1-154h0m0 121h0m1-29h0m1 38h0m0 5h0m0 21h0m1-154h0m0 120h0m0 26h0m0 34h0m1-174h0m0 5h0m0 125h0m1-34h0m0 11h0m1 55h0m1-73h0m0 47h0m0 77h0m1-88h0m2 29h0m1-7h0m1-41h0m0 4h0m1-122h0m0 19h0m1-10h0m0 97h0m0 35h0m0 23h0m1-45h0m1-125h0m0 2h0m1 161h0m0 76h0m1-134h0m1 10h0m0 18h0m1-109h0m0 155h0m1-166h0m1-20h0m0 10h0m0 140h0m2-29h0m0 12h0m0 15h0m0 25h0m1-55h0m0 1h0m3-97h0m1 110h0m0 43h0m2-158h0m0 107h0m1-16h0m0 1h0m2 38h0m0 11h0m2-149h0m0 189h0m1-63h0m1-136h0m0 20h0m1 87h0m0 20h0m1-110h0m0 106h0m1-106h0m0 90h0m0 33h0m0 17h0m1-21h0m0 17h0m0 39h0m1-63h0m1 21h0m2-124h0m0 208h0m1-231h0m0 115h0m0 2h0m0 65h0m3-180h0m0 10h0m0 100h0m0 8h0m2 12h0m1-136h0m0 1h0m0 208h0m2-49h0m0 28h0m1-181h0m0 12h0m0 106h0m1-123h0m4 114h0m1 9h0m2-113h0m2-15h0m0 14h0m0 6h0m0 99h0m0 2h0m0 11h0m2-132h0m0 224h0m2-87h0m1 3h0m0 15h0m1-138h0m0 99h0m2 22h0m1-123h0m1 112h0m0 7h0m0 24h0m1-145h0m0 111h0m1-106h0m1 153h0m1-159h0m1 104h0m1-104h0m0 111h0m0 26h0m2-18h0m1 64h0m2-217h0m1 37h0m0 124h0m0 11h0m1 69h0m1-221h0m0 130h0m0 105h0m1-219h0m0 123h0m0 13h0m1-32h0m0 29h0m2-126h0m0 131h0m1 15h0m1-157h0m0 103h0m1 42h0m2-33h0m0 9h0m0 20h0m1-11h0m1-134h0m1 112h0m2-104h0m0 165h0m2-184h0m0 6h0m0 182h0m1-169h0m0 118h0m0 10h0m0 3h0m0 9h0m0 43h0m1-89h0m0 16h0m2-124h0m0 3h0m0 220h0m2-51h0m0 16h0m1-170h0m0 207h0m1-226h0m0 119h0m0 6h0m0 38h0m1-163h0m2 9h0m1 125h0m1-18h0m1-114h0m2 0h0m1 160h0m1-38h0m1-118h0m1 12h0m0 92h0m0 84h0m1-46h0m1-27h0m1 4h0m0 59h0m1-181h0m0 130h0m0 10h0m0 26h0m1-37h0m0 22h0m0 2h0m1 17h0m1-171h0m0 8h0m1 136h0m0 62h0m1-96h0m1-99h0m1 122h0m0 20h0m0 16h0m1-63h0m0 14h0m0 82h0m1-195h0m0 173h0m2-179h0m1 116h0m1 5h0m1-122h0m0 162h0m2-6h0m1-144h0m0 147h0m0 13h0m2-169h0m0 113h0m0 5h0m1-130h0m0 1h0m2 117h0m0 14h0m1-133h0m0 173h0m1-155h0m0 100h0m0 19h0m1-113h0m1 112h0m0 15h0m1-145h0m0 178h0m2-183h0m0 196h0m1 25h0m1-210h0m0 116h0m1-11h0m1-91h0m1-13h0m0 2h0m1 150h0m1-40h0m0 11h0m0 4h0m0 36h0m3-34h0m0 40h0m1-65h0m0 35h0m1-149h0m0 2h0m0 21h0m0 117h0m1-126h0m0 160h0m1-44h0m1-124h0m0 106h0m0 24h0m0 20h0m4-137h0m0 130h0m0 40h0m1-188h0m1 142h0m1-26h0m1-104h0m0 126h0m0 26h0m2-160h0m0 118h0m1 5h0m0 29h0m0 1h0m1-131h0m2 111h0m0 32h0m1-154h0m0 123h0m0 27h0m1-4h0m1-159h0m0 130h0m0 41h0m1-167h0m0 109h0m1 35h0m0 12h0m1-41h0m0 53h0m1-46h0m0 129h0m3-258h0m0 126h0m0 36h0m1-157h0m0 14h0m0 97h0m1 35h0m2-148h0m0 181h0m1-27h0m0 21h0m2-194h0m0 177h0m1-158h0m0 14h0m0 101h0m0 10h0m1-122h0m0 11h0m1 236h0m1-124h0m0 34h0m1 10h0m0 14h0m1-71h0m0 51h0m1-16h0m0 15h0m1-25h0m2 36h0m0 52h0m1-216h0m0 108h0m0 24h0m0 27h0m1-174h0m0 21h0m1 195h0m1-206h0m0 115h0m0 34h0m0 60h0m1-103h0m1-108h0m0 14h0m0 129h0m1 12h0m1-159h0m1 220h0m1-209h0m0 136h0m1-146h0m2 117h0m0 27h0m1 22h0m1-164h0m0 122h0m0 29h0m1-194h0m0 54h0m0 98h0m0 23h0m1-132h0m1 158h0m2-158h0m1 1h0m0 125h0m2-150h0m0 40h0m0 121h0m0 32h0m1-61h0m0 0h0m0 37h0m1-143h0m0 149h0m0 24h0m1-169h0m1 108h0m2 8h0m1-120h0m0 8h0m1-10h0m0 117h0m1-139h0m0 251h0m2-220h0m1 96h0m0 50h0m1 41h0m2-180h0m0 97h0m0 11h0m1-129h0m0 134h0m0 20h0m0 0h0m1-147h0m0 124h0m2-13h0m0 52h0m1 47h0m2-216h0m0 1h0m0 208h0m1-207h0m0 10h0m0 98h0m1-118h0m0 21h0m2 111h0m1-103h0m0 172h0m1-47h0m0 32h0m0 17h0m1-30h0m0 13h0m1 14h0m0 12h0m2-199h0m0 107h0m0 5h0m0 12h0m0 6h0m0 20h0m0 57h0m2-195h0m1 106h0m0 1h0m2-111h0m1-12h0m0 18h0m0 134h0m1-47h0m1-105h0m0 149h0m1 37h0m1-184h0m0 115h0m0 121h0m1-86h0m1-147h0m0 114h0m2-138h0m0 142h0m0 16h0m0 60h0m1-187h0m0 191h0m1-93h0m0 65h0m1-153h0m1 85h0m1 21h0m0 101h0m1-212h0m0 113h0m0 35h0m1-164h0m1 4h0m0 116h0m1-20h0m0 27h0m1-11h0m0 16h0m1-122h0m0 134h0m0 50h0m0 23h0m1-102h0m0 15h0m2-20h0m1-120h0m1 9h0m1 7h0m0 11h0m0 86h0m2 25h0m1-105h0m0 78h0m1-100h0m2 5h0m0 156h0m2-139h0m0 160h0m2-177h0m0 128h0m0 11h0m0 23h0m1-47h0m0 6h0m1-21h0m0 31h0m1-136h0m1 8h0m0 1h0m0 87h0m0 9h0m0 11h0m0 15h0m0 5h0m2-126h0m0 145h0m0 83h0m1-223h0m1 94h0m0 13h0m1 77h0m1-176h0m0 112h0m0 16h0m0 3h0m0 78h0m2-90h0m0 29h0m1-163h0m0 97h0m0 113h0m1-217h0m0 96h0m0 30h0m1-104h0m1-21h0m0 113h0m0 45h0m1-54h0m2-89h0m1-15h0m0 118h0m1-122h0m0 21h0m1-14h0m0 135h0m1-132h0m0 93h0m1 12h0m2 45h0m0 67h0m2-83h0m1-134h0m0 164h0m1-156h0m0 94h0m1-84h0m0 94h0m1-24h0m0 7h0m0 44h0m0 1h0m1 1h0m1-148h0m1 106h0m1-14h0m1-96h0m0 5h0m0 131h0m0 50h0m0 17h0m1-177h0m0 94h0m0 88h0m1-99h0m1-93h0m0 199h0m1-208h0m0 125h0m0 21h0m2-130h0m0 140h0m0 10h0m1-15h0m0 67h0m2-119h0m0 13h0m1-118h0m0 101h0m0 0h0m0 4h0m0 65h0m0 10h0m1-151h0m0 83h0m0 8h0m1-114h0m0 91h0m1-86h0m0 9h0m0 102h0m0 5h0m0 5h0m0 3h0m2-31h0m0 73h0m1-39h0m0 61h0m2-175h0m0 139h0m1-62h0m2-87h0m0 12h0m0 75h0m0 14h0m0 8h0m0 17h0m0 23h0m1 7h0m0 44h0m1-209h0m2 109h0m1-20h0m0 10h0m1 22h0m0 3h0m0 10h0m1-125h0m0 15h0m1-12h0m0 96h0m1-3h0m0 1h0m1 10h0m0 39h0m1-153h0m0 121h0m2-29h0m0 47h0m1-137h0m0 1h0m0 130h0m1-116h0m2-23h0m0 102h0m1 23h0m1-110h0m0 115h0m0 22h0m2-61h0m1 43h0m0 43h0m1-162h0m0 105h0m0 25h0m1-35h0m0 8h0m0 29h0m2-129h0m0 8h0m0 107h0m1-12h0m2-18h0m0 39h0m0 69h0m1-115h0m0 7h0m0 61h0m1-61h0m0 67h0m1-153h0m1 133h0m1-25h0m0 29h0m1-137h0m0 88h0m1-82h0m0 146h0m1-17h0m1-152h0m0 19h0m1 71h0m0 27h0m0 25h0m2-124h0m0 81h0m0 32h0m0 12h0m1-113h0m0 90h0m1-29h0m0 22h0m1-6h0m1-94h0m1 116h0m2-139h0m0 22h0m0 186h0m1-177h0m0 91h0m0 54h0m1-36h0m0 27h0m1-143h0m0 104h0m0 2h0m1-21h0m0 34h0m1-105h0m0 63h0m2 15h0m1 25h0m0 45h0m0 2h0m1-83h0m1-82h0m1 126h0m0 4h0m1-121h0m0 82h0m1-6h0m0 21h0m1-102h0m0 98h0m0 33h0m1-125h0m1 65h0m0 34h0m0 85h0m1-212h0m1 13h0m0 3h0m0 141h0m0 22h0m1-45h0m1-121h0m0 145h0m1-121h0m0 63h0m0 31h0m0 12h0m2 37h0m1-72h0m0 31h0m0 44h0m2-159h0m0 68h0m0 17h0m1-95h0m0 88h0m0 9h0m0 44h0m1-125h0m0 119h0m1-21h0m1-110h0m3 84h0m1-100h0m0 89h0m0 19h0m1-105h0m0 16h0m0 115h0m3-42h0m1-66h0m1 89h0m0 79h0m1-183h0m0 2h0m0 155h0m2-49h0m0 30h0m0 67h0m1-111h0m1-85h0m0 78h0m1 27h0m0 16h0m0 0h0m2-111h0m0 1h0m0 79h0m0 3h0m0 26h0m0 49h0m1-171h0m0 5h0m0 67h0m0 19h0m0 37h0m0 7h0m0 7h0m1-126h0m0 123h0m0 54h0m1-195h0m0 18h0m1 103h0m1-15h0m0 61h0m1-171h0m0 87h0m3-76h0m1 71h0m1-74h0m1 7h0m1 63h0m0 17h0m0 1h0m1-94h0m1 76h0m0 17h0m2-96h0m1-9h0m2 26h0m0 79h0m0 46h0m0 35h0m2-166h0m0 89h0m1-102h0m0 100h0m1-8h0m1-8h0m0 5h0m3-77h0m0 63h0m1 38h0m0 16h0m1-117h0m1-11h0m0 23h0m0 62h0m0 87h0m0 4h0m1-159h0m0 111h0m1-31h0m0 28h0m0 4h0m2-111h0m0 103h0m1-29h0m2 7h0m0 12h0m0 8h0m1-110h0m0 71h0m0 62h0m1-141h0m1 97h0m0 106h0m3-184h0m0 57h0m1-76h0m0 88h0m0 9h0m2-94h0m0 6h0m0 149h0m4-143h0m0 82h0m0 29h0m0 15h0m1-59h0m0 120h0m1-204h0m0 28h0m0 142h0m1-66h0m1-90h0m0 76h0m1-76h0m2-1h0m1 69h0m0 25h0m0 8h0m1-27h0m0 22h0m0 24h0m0 11h0m1-125h0m0 76h0m0 30h0m1-107h0m0 132h0m1-44h0m0 45h0m1-146h0m0 88h0m0 48h0m1-153h0m0 15h0m0 103h0m0 17h0m0 12h0m1-56h0m0 80h0m0 10h0m1-143h0m0 77h0m1-95h0m1 79h0m0 32h0m2-17h0m2-84h0m1 76h0m0 47h0m1-138h0m0 100h0m0 23h0m1-109h0m0 60h0m1 55h0m1-131h0m0 12h0m1 71h0m0 30h0m0 10h0m1-26h0m1-100h0m0 28h0m0 85h0m0 55h0m1-94h0m2 23h0m1-86h0m0 131h0m1-56h0m0 11h0m0 47h0m0 28h0m1-151h0m1 131h0m0 7h0m1 4h0m1-156h0m0 111h0m1-102h0m0 66h0m0 14h0m2-4h0m1-86h0m0 14h0m0 98h0m1 42h0m0 24h0m1-40h0m1-47h0m0 10h0m0 35h0m1-117h0m0 83h0m1-32h0m0 9h0m0 60h0m1-132h0m1-11h0m0 96h0m0 12h0m0 25h0m1 0h0m1-10h0m0 2h0m1-117h0m0 0h0m0 81h0m0 48h0m1-55h0m0 86h0m2-148h0m1 87h0m1-33h0m0 22h0m0 16h0m1-95h0m0 87h0m0 44h0m1 42h0m1-183h0m1 67h0m0 11h0m2 29h0m2-122h0m0 27h0m0 72h0m0 30h0m1-18h0m0 6h0m1-11h0m1-83h0m0 106h0m1-125h0m0 4h0m0 5h0m1 72h0m0 39h0m0 32h0m1-62h0m0 31h0m0 62h0m1-167h0m1 153h0m1-69h0m2-77h0m0 86h0m1-101h0m0 170h0m1-80h0m0 45h0m1-68h0m0 12h0m0 23h0m2-19h0m0 54h0m2-129h0m0 95h0m0 52h0m1-82h0m1-80h0m0 9h0m0 17h0m0 57h0m0 17h0m2 85h0m1-63h0m1-116h0m1 101h0m1-123h0m1 109h0m1-76h0m0 63h0m2-56h0m0 101h0m0 8h0m1-124h0m1-1h0m0 75h0m0 14h0m0 12h0m0 20h0m0 10h0m1-3h0m1-124h0m0 59h0m2 16h0m0 29h0m0 63h0m2-188h0m0 91h0m1-60h0m0 75h0m1 28h0m3-130h0m0 20h0m0 14h0m0 73h0m1-28h0m0 18h0m0 70h0m1-145h0m1-3h0m0 128h0m1-130h0m0 130h0m2-134h0m0 76h0m1-11h0m0 19h0m0 11h0m1 27h0m2-110h0m0 119h0m1-131h0m2 73h0m0 22h0m1-13h0m1 8h0m0 46h0m1-28h0m1-108h0m0 7h0m0 85h0m0 28h0m0 63h0m1-61h0m1-108h0m0 49h0m1 61h0m2-51h0m0 11h0m1-96h0m0 178h0m1-170h0m0 98h0m1 1h0m0 80h0m2-178h0m0 9h0m0 160h0m1-104h0m0 44h0m1-28h0m1-63h0m0 91h0m1-109h0m0 89h0m0 53h0m1-66h0m2-65h0m0 90h0m2-33h0m0 63h0m1-51h0m1-99h0m0 36h0m0 72h0m0 6h0m0 18h0m0 60h0m1-60h0m2-108h0m1-6h0m0 13h0m0 9h0m0 98h0m0 23h0m2-5h0m1-137h0m0 85h0m0 21h0m1-33h0m0 22h0" stroke="#E83F27" stroke-width="14.8" stroke-linecap="round" fill="none" transform="scale(0.25)"/></g><circle cx="749.2" cy="286.8" r="1.6" fill="#BDB83A"/><text font-size="9.75" x="761.4" y="289.8">flat representation</text><circle cx="749.2" cy="299.9" r="1.6" fill="#3A8A28"/><text font-size="9.75" x="761.4" y="302.9">flat representation, parameter-constrained</text><circle cx="749.2" cy="313.1" r="1.6" fill="#E83F27"/><text font-size="9.75" x="761.4" y="316.1">hierarchical representation</text><g font-size="9.1" text-anchor="middle"><text x="704.4" y="336.6">0</text><text x="743.2" y="336.6">1000</text><text x="782.1" y="336.6">2000</text><text x="820.9" y="336.6">3000</text><text x="859.7" y="336.6">4000</text><text x="898.5" y="336.6">5000</text><text x="937.4" y="336.6">6000</text><text x="976.2" y="336.6">7000</text></g><g font-size="9.1" text-anchor="end"><text x="698.6" y="326.4">0.1</text><text x="698.6" y="287.8">0.2</text><text x="698.6" y="249.1">0.3</text><text x="698.6" y="210.4">0.4</text><text x="698.6" y="171.8">0.5</text><text x="698.6" y="133.1">0.6</text><text x="698.6" y="94.5">0.7</text><text x="698.6" y="55.8">0.8</text><text x="698.6" y="17.2">0.9</text></g><text font-size="9.7" text-anchor="middle" x="840.3" y="349.6">evolution step</text><text font-size="9.7" text-anchor="middle" transform="translate(678.2 170.0) rotate(-90)">Number of model parameters (M)</text></svg>
<p class="cap" style="top:0">
<span class="l" style="top:377.0px;word-spacing:2.87px">Figure 3:<b style="width:4.47px"></b> Fitness and number of parameters vs evolution step for <span class='fi'>f</span>lat and hierarchical represen-</span>
<span class="l" style="top:404.1px;word-spacing:2.50px">tations.<b style="width:7.80px"></b> <i>Left:</i><b style="width:6.10px"></b> <span class='fi'>f</span>itness of a genotype generated at each evolution step.<b style="width:7.80px"></b> <i>Middle:</i><b style="width:6.10px"></b> maximum <span class='fi'>f</span>itness</span>
<span class="l" style="top:431.2px;word-spacing:-0.47px">across all genotypes generated before each evolution step.<b style="width:3.85px"></b> <i>Right:</i><b style="width:1.67px"></b> number of parameters in the small</span>
<span class="l" style="top:458.3px;word-spacing:0.00px">CIFAR-10 model constructed using the genotype generated at each evolution step.</span>
</p>

</body></html>
